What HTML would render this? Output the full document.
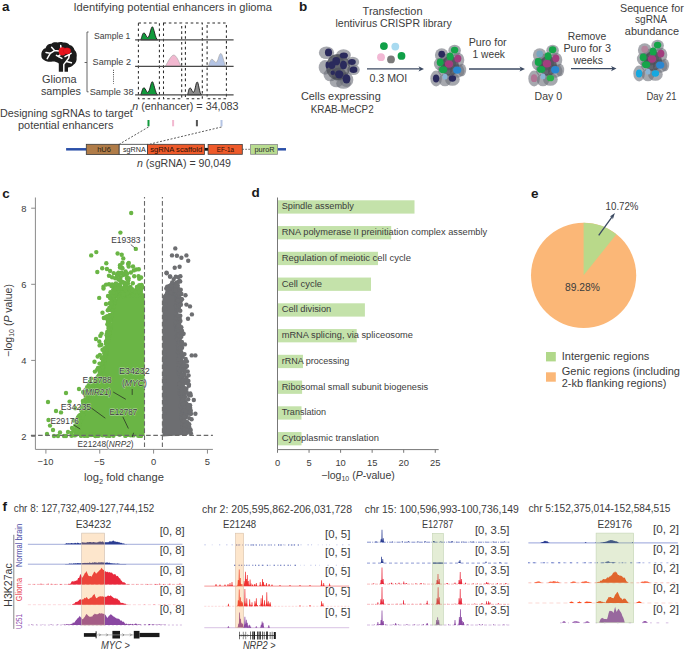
<!DOCTYPE html>
<html><head><meta charset="utf-8"><style>
html,body{margin:0;padding:0;background:#fff;overflow:hidden;width:685px;height:650px;}
svg{display:block;font-family:"Liberation Sans", sans-serif;}
</style></head><body>
<svg width="685" height="650" viewBox="0 0 685 650">
<text x="2.00" y="11.00" font-size="13.5" fill="#1a1a1a" font-weight="bold">a</text>
<text x="73.50" y="10.90" font-size="10.6" fill="#3c3c3c" textLength="198.50" lengthAdjust="spacingAndGlyphs">Identifying potential enhancers in glioma</text>
<g>
<path d="M41.4,55.8 C41,51.5 43,49 45.5,48.3 C46.5,45 49,43.6 51.5,43.8 C53,42.2 55.5,42 57.5,42.6 C59,41.6 62.5,41.8 64,42.6 C66.5,42.4 68.5,43.6 69.5,45 C72,45.3 74,47.5 74.5,50 C76.5,51.5 77.2,54.5 76.6,57.5 C77,60.5 75.8,63.5 73.5,64.8 C72,66.6 70,67.6 68,67.6 L68,71.8 L58.8,71.8 L58.8,63.6 C56.5,61.8 54.5,61.5 52.5,61.6 C49,62.2 45.5,61.5 44,60 C42.2,59.2 41.4,57.8 41.4,55.8 Z" fill="#1c1c1c"/>
<g stroke="#fff" stroke-width="1.5" fill="none" stroke-linecap="round">
<path d="M47.2,58.6 L50.3,53.3 L46,52.4 M50.3,53.3 L54.6,50.6 L51.6,47.2 M54.6,50.6 L58.8,51"/>
<path d="M56.4,55.4 L61.9,58.4 M58.5,56.6 L60.4,54.6"/>
<path d="M65,56.6 L71.1,53.3 M69.5,54.2 L68.7,58.2 L63.8,64.4 L63.8,72 M66.3,61.6 L71.4,62.8"/>
<path d="M60.7,45.5 L61,48"/>
</g>
<ellipse cx="62.4" cy="51.4" rx="3.7" ry="4.1" fill="#e8141c"/>
<ellipse cx="67" cy="50.9" rx="3.8" ry="3.1" fill="#e8141c" stroke="#b00010" stroke-width="0.3"/>
</g>
<text x="42.00" y="82.60" font-size="10.5" fill="#3c3c3c" textLength="34.60" lengthAdjust="spacingAndGlyphs">Glioma</text>
<text x="40.90" y="94.70" font-size="10.5" fill="#3c3c3c" textLength="40.10" lengthAdjust="spacingAndGlyphs">samples</text>
<path d="M88.6,32 L87,32 L87,91.8 L88.6,91.8 M87,62.5 L84.6,62.5" stroke="#555" stroke-width="0.9" fill="none"/>
<text x="94.00" y="39.00" font-size="9.4" fill="#3c3c3c" textLength="36.40" lengthAdjust="spacingAndGlyphs">Sample 1</text>
<text x="92.60" y="65.30" font-size="9.4" fill="#3c3c3c" textLength="38.40" lengthAdjust="spacingAndGlyphs">Sample 2</text>
<text x="89.70" y="94.70" font-size="9.4" fill="#3c3c3c" textLength="43.90" lengthAdjust="spacingAndGlyphs">Sample 38</text>
<line x1="113.5" y1="69.8" x2="113.5" y2="83.6" stroke="#333" stroke-width="0.9" stroke-dasharray="1,1.2"/>
<rect x="138.4" y="23" width="21.00" height="75.8" fill="none" stroke="#2a2a2a" stroke-width="1.05" stroke-dasharray="2.6,2.7"/>
<rect x="163.5" y="23" width="18.20" height="75.8" fill="none" stroke="#2a2a2a" stroke-width="1.05" stroke-dasharray="2.6,2.7"/>
<rect x="185.4" y="23" width="16.90" height="75.8" fill="none" stroke="#2a2a2a" stroke-width="1.05" stroke-dasharray="2.6,2.7"/>
<rect x="207.1" y="23" width="19.30" height="75.8" fill="none" stroke="#2a2a2a" stroke-width="1.05" stroke-dasharray="2.6,2.7"/>
<path d="M140.8,39.9 C142.0,36.9 142.41100000000003,32.9 144.01100000000002,32.9 C145.51100000000002,32.9 146.229,37.6 147.729,37.6 C149.729,37.6 150.77650000000003,26.799999999999997 152.37650000000002,26.799999999999997 C153.77650000000003,26.799999999999997 155.20000000000002,38.9 157.70000000000002,39.9 Z" fill="#119a3c" stroke="#1a1a1a" stroke-width="0.9"/>
<path d="M140.8,94.8 C142.0,91.8 142.41100000000003,87.8 144.01100000000002,87.8 C145.51100000000002,87.8 146.229,92.5 147.729,92.5 C149.729,92.5 150.77650000000003,81.7 152.37650000000002,81.7 C153.77650000000003,81.7 155.20000000000002,93.8 157.70000000000002,94.8 Z" fill="#119a3c" stroke="#1a1a1a" stroke-width="0.9"/>
<path d="M187.5,94.8 C188.7,91.8 188.598,88.0 190.198,88.0 C191.698,88.0 191.822,92.3 193.322,92.3 C195.322,92.3 195.627,82.0 197.227,82.0 C198.627,82.0 199.2,93.8 201.7,94.8 Z" fill="#8c8c8c" stroke="#1a1a1a" stroke-width="0.9"/>
<path d="M165.3,66.4 C168,62 171,55.1 173.7,55.1 C176.5,55.1 179,62 181,66.4 Z" fill="#f2b8d0" stroke="#aaa" stroke-width="0.7"/>
<path d="M208.4,66.4 C209.5,63 210.5,59.2 211.9,59.2 C213.5,59.2 214.5,62.5 216,62.5 C218,62.5 219,53.5 220.7,53.5 C222.5,53.5 223.5,61 225.5,66.4 Z" fill="#b4c4e4" stroke="#aaa" stroke-width="0.7"/>
<line x1="135.1" y1="39.9" x2="233.6" y2="39.9" stroke="#4a4a4a" stroke-width="1.3"/>
<line x1="135.1" y1="66.4" x2="233.6" y2="66.4" stroke="#4a4a4a" stroke-width="1.3"/>
<line x1="135.1" y1="94.8" x2="233.6" y2="94.8" stroke="#4a4a4a" stroke-width="1.3"/>
<text fill="#3c3c3c" x="132.3" y="110.2" font-size="10.5" textLength="106.3" lengthAdjust="spacingAndGlyphs"><tspan font-style="italic">n</tspan> (enhancer) = 34,083</text>
<text x="0.00" y="117.10" font-size="10.6" fill="#3c3c3c" textLength="132.80" lengthAdjust="spacingAndGlyphs">Designing sgRNAs to target</text>
<text x="18.00" y="128.70" font-size="10.6" fill="#3c3c3c" textLength="95.40" lengthAdjust="spacingAndGlyphs">potential enhancers</text>
<rect x="147.5" y="120" width="2" height="6.3" fill="#119a3c"/>
<rect x="172.1" y="120" width="2" height="6.3" fill="#f2b8d0"/>
<rect x="195.9" y="120" width="2" height="6.3" fill="#555"/>
<rect x="220.5" y="120" width="2" height="6.3" fill="#b4c4e4"/>
<path d="M148.5,127 L119.6,144 M221.5,127 L150.2,144" stroke="#333" stroke-width="0.8" stroke-dasharray="2,1.6" fill="none"/>
<line x1="66.1" y1="149.3" x2="86.3" y2="149.3" stroke="#2a4fa8" stroke-width="2.5"/>
<line x1="277.5" y1="149.3" x2="286" y2="149.3" stroke="#2a4fa8" stroke-width="2.5"/>
<line x1="204.4" y1="149.3" x2="208.1" y2="149.3" stroke="#111" stroke-width="2.8"/>
<line x1="242.3" y1="149.3" x2="250.6" y2="149.3" stroke="#444" stroke-width="0.8" stroke-dasharray="1.6,1.4"/>
<rect x="86.3" y="144.3" width="32.9" height="10.2" fill="#b07c48" stroke="#3a3a3a" stroke-width="0.8"/>
<rect x="119.2" y="144.3" width="28.4" height="10.2" fill="#fff" stroke="#3a3a3a" stroke-width="0.8"/>
<rect x="147.6" y="144.3" width="56.8" height="10.2" fill="#ee5a2a" stroke="#3a3a3a" stroke-width="0.8"/>
<rect x="208.1" y="144.5" width="34.2" height="9.8" fill="#ee5a2a" stroke="#3a3a3a" stroke-width="0.8"/>
<rect x="250.6" y="144.5" width="26.9" height="9.8" fill="#b8dc90" stroke="#888" stroke-width="0.8"/>
<text x="97.20" y="152.30" font-size="7.6" fill="#2a1c10" textLength="13.80" lengthAdjust="spacingAndGlyphs">hU6</text>
<text x="123.00" y="152.10" font-size="7.6" fill="#2a2a2a" textLength="22.80" lengthAdjust="spacingAndGlyphs">sgRNA</text>
<text x="150.20" y="152.30" font-size="7.6" fill="#2a1008" textLength="52.10" lengthAdjust="spacingAndGlyphs">sgRNA scaffold</text>
<text x="216.80" y="152.30" font-size="7.6" fill="#2a1008" textLength="17.10" lengthAdjust="spacingAndGlyphs">EF-1a</text>
<text x="254.50" y="152.30" font-size="7.6" fill="#2a2a2a" textLength="20.10" lengthAdjust="spacingAndGlyphs">puroR</text>
<text x="137" y="167.3" font-size="10.5" fill="#3c3c3c" textLength="94" lengthAdjust="spacingAndGlyphs"><tspan font-style="italic">n</tspan> (sgRNA) = 90,049</text>
<text x="298.90" y="11.40" font-size="13.5" fill="#1a1a1a" font-weight="bold">b</text>
<text x="362.60" y="15.00" font-size="10.3" fill="#3c3c3c" textLength="59.90" lengthAdjust="spacingAndGlyphs">Transfection</text>
<text x="335.50" y="26.90" font-size="10.3" fill="#3c3c3c" textLength="116.20" lengthAdjust="spacingAndGlyphs">lentivirus CRISPR library</text>
<text x="369.60" y="82.20" font-size="10.3" fill="#3c3c3c" textLength="37.60" lengthAdjust="spacingAndGlyphs">0.3 MOI</text>
<text x="300.90" y="100.10" font-size="10.3" fill="#3c3c3c" textLength="79.80" lengthAdjust="spacingAndGlyphs">Cells expressing</text>
<text x="310.70" y="112.90" font-size="10.3" fill="#3c3c3c" textLength="63.00" lengthAdjust="spacingAndGlyphs">KRAB-MeCP2</text>
<text x="468.70" y="45.80" font-size="10.3" fill="#3c3c3c" textLength="38.00" lengthAdjust="spacingAndGlyphs">Puro for</text>
<text x="472.60" y="58.00" font-size="10.3" fill="#3c3c3c" textLength="32.40" lengthAdjust="spacingAndGlyphs">1 week</text>
<text x="567.70" y="39.70" font-size="10.3" fill="#3c3c3c" textLength="38.50" lengthAdjust="spacingAndGlyphs">Remove</text>
<text x="563.40" y="51.80" font-size="10.3" fill="#3c3c3c" textLength="47.60" lengthAdjust="spacingAndGlyphs">Puro for 3</text>
<text x="573.50" y="63.80" font-size="10.3" fill="#3c3c3c" textLength="29.50" lengthAdjust="spacingAndGlyphs">weeks</text>
<text x="534.50" y="100.00" font-size="10.3" fill="#3c3c3c" textLength="27.60" lengthAdjust="spacingAndGlyphs">Day 0</text>
<text x="620.00" y="11.60" font-size="10.3" fill="#3c3c3c" textLength="63.80" lengthAdjust="spacingAndGlyphs">Sequence for</text>
<text x="635.00" y="22.90" font-size="10.3" fill="#3c3c3c" textLength="31.90" lengthAdjust="spacingAndGlyphs">sgRNA</text>
<text x="624.80" y="34.90" font-size="10.3" fill="#3c3c3c" textLength="54.20" lengthAdjust="spacingAndGlyphs">abundance</text>
<text x="646.40" y="100.00" font-size="10.3" fill="#3c3c3c" textLength="30.10" lengthAdjust="spacingAndGlyphs">Day 21</text>
<line x1="367" y1="68.9" x2="421" y2="68.9" stroke="#3c4a62" stroke-width="1.3"/>
<path d="M424,68.9 L418.5,66.30000000000001 L420,68.9 L418.5,71.5 Z" fill="#3c4a62"/>
<line x1="469" y1="69" x2="522" y2="69" stroke="#3c4a62" stroke-width="1.3"/>
<path d="M525,69 L519.5,66.4 L521,69 L519.5,71.6 Z" fill="#3c4a62"/>
<line x1="571" y1="68.6" x2="613.5" y2="68.6" stroke="#3c4a62" stroke-width="1.3"/>
<path d="M616.5,68.6 L611.0,66.0 L612.5,68.6 L611.0,71.19999999999999 Z" fill="#3c4a62"/>
<circle cx="383.9" cy="46.1" r="3.9" fill="#10a048"/>
<circle cx="395.3" cy="46.6" r="3.9" fill="#a8daf0"/>
<circle cx="381" cy="57.2" r="3.9" fill="#f2b8d4"/>
<circle cx="391" cy="59.4" r="3.9" fill="#7a7a7a"/>
<circle cx="401.5" cy="55.9" r="3.9" fill="#10a048"/>
<defs><filter id="bl" x="-20%" y="-20%" width="140%" height="140%"><feGaussianBlur stdDeviation="0.7"/></filter><filter id="bl2"><feGaussianBlur stdDeviation="0.35"/></filter></defs>
<g><g filter="url(#bl)"><ellipse cx="326.5" cy="52.8" rx="7.67" ry="6.30" fill="#6a6e78" fill-opacity="0.6"/><ellipse cx="343.5" cy="55.1" rx="7.35" ry="5.78" fill="#6a6e78" fill-opacity="0.6"/><ellipse cx="352.7" cy="62" rx="6.51" ry="5.25" fill="#6a6e78" fill-opacity="0.6"/><ellipse cx="353.5" cy="69.7" rx="6.30" ry="5.25" fill="#6a6e78" fill-opacity="0.6"/><ellipse cx="335.8" cy="62.8" rx="8.40" ry="8.40" fill="#6a6e78" fill-opacity="0.6"/><ellipse cx="325" cy="67.4" rx="6.30" ry="7.35" fill="#6a6e78" fill-opacity="0.6"/><ellipse cx="330.4" cy="75" rx="6.83" ry="6.30" fill="#6a6e78" fill-opacity="0.6"/><ellipse cx="338.8" cy="74.3" rx="7.35" ry="6.83" fill="#6a6e78" fill-opacity="0.6"/><ellipse cx="346.5" cy="79.7" rx="6.83" ry="7.35" fill="#6a6e78" fill-opacity="0.6"/><ellipse cx="336.5" cy="82" rx="6.83" ry="5.25" fill="#6a6e78" fill-opacity="0.6"/><ellipse cx="343.5" cy="83.5" rx="7.35" ry="5.25" fill="#6a6e78" fill-opacity="0.6"/><ellipse cx="338" cy="67" rx="12" ry="13" fill="#2e323a" fill-opacity="0.55"/></g><g filter="url(#bl2)"><ellipse cx="328.5" cy="52.4" rx="3.58" ry="3.92" fill="#2c2a5c"/><ellipse cx="343.8" cy="55.5" rx="4.14" ry="3.02" fill="#2c2a5c"/><ellipse cx="351.9" cy="62" rx="3.92" ry="3.02" fill="#2c2a5c"/><ellipse cx="353.5" cy="69.7" rx="3.92" ry="3.25" fill="#2c2a5c"/><ellipse cx="336.2" cy="61.2" rx="3.92" ry="4.14" fill="#2c2a5c"/><ellipse cx="343.5" cy="65.1" rx="3.47" ry="4.26" fill="#2c2a5c"/><ellipse cx="331.9" cy="65.1" rx="3.47" ry="3.92" fill="#2c2a5c"/><ellipse cx="327.3" cy="65.1" rx="1.79" ry="3.47" fill="#2c2a5c"/><ellipse cx="339.2" cy="74.3" rx="4.14" ry="4.14" fill="#2c2a5c"/><ellipse cx="346.5" cy="78.9" rx="3.92" ry="4.70" fill="#2c2a5c"/><ellipse cx="332.7" cy="72.8" rx="2.24" ry="2.24" fill="#2c2a5c"/></g></g>
<g><g filter="url(#bl)"><ellipse cx="441.7" cy="55" rx="6.83" ry="6.83" fill="#6a6e78" fill-opacity="0.6"/><ellipse cx="454.6" cy="50.5" rx="6.30" ry="5.78" fill="#6a6e78" fill-opacity="0.6"/><ellipse cx="458" cy="60" rx="6.30" ry="7.35" fill="#6a6e78" fill-opacity="0.6"/><ellipse cx="448" cy="62" rx="8.40" ry="8.40" fill="#6a6e78" fill-opacity="0.6"/><ellipse cx="440.2" cy="64" rx="6.30" ry="6.30" fill="#6a6e78" fill-opacity="0.6"/><ellipse cx="445" cy="70" rx="7.35" ry="6.30" fill="#6a6e78" fill-opacity="0.6"/><ellipse cx="457.2" cy="71" rx="7.35" ry="6.83" fill="#6a6e78" fill-opacity="0.6"/><ellipse cx="436.1" cy="78.5" rx="5.78" ry="7.88" fill="#6a6e78" fill-opacity="0.6"/><ellipse cx="452.4" cy="79.5" rx="7.35" ry="6.30" fill="#6a6e78" fill-opacity="0.6"/><ellipse cx="445" cy="80" rx="6.30" ry="6.30" fill="#6a6e78" fill-opacity="0.6"/><ellipse cx="462" cy="70" rx="4.20" ry="6.30" fill="#6a6e78" fill-opacity="0.6"/><ellipse cx="450" cy="66" rx="9" ry="10" fill="#2e323a" fill-opacity="0.55"/></g><g filter="url(#bl2)"><ellipse cx="441.7" cy="54.2" rx="3.36" ry="3.47" fill="#2c2a5c"/><ellipse cx="454.6" cy="50.1" rx="3.70" ry="3.47" fill="#16a44a"/><ellipse cx="450.1" cy="56.4" rx="3.47" ry="3.92" fill="#16a44a"/><ellipse cx="457.9" cy="58.6" rx="3.47" ry="3.92" fill="#a23e7e"/><ellipse cx="440.2" cy="62.3" rx="3.47" ry="3.92" fill="#16a44a"/><ellipse cx="449" cy="64.1" rx="4.14" ry="3.70" fill="#a23e7e"/><ellipse cx="443.1" cy="69.7" rx="4.14" ry="3.47" fill="#16a44a"/><ellipse cx="457.2" cy="70.1" rx="4.14" ry="3.70" fill="#2a86d0"/><ellipse cx="436.1" cy="78.5" rx="3.14" ry="3.92" fill="#2c2a5c"/><ellipse cx="452.4" cy="78.5" rx="3.70" ry="3.14" fill="#2c2a5c"/><ellipse cx="445" cy="76.7" rx="2.46" ry="2.91" fill="#8ab4d4"/></g></g>
<g><g filter="url(#bl)"><ellipse cx="539.7" cy="55" rx="6.83" ry="6.83" fill="#6a6e78" fill-opacity="0.6"/><ellipse cx="552.6" cy="50.5" rx="6.30" ry="5.78" fill="#6a6e78" fill-opacity="0.6"/><ellipse cx="556" cy="60" rx="6.30" ry="7.35" fill="#6a6e78" fill-opacity="0.6"/><ellipse cx="546" cy="62" rx="8.40" ry="8.40" fill="#6a6e78" fill-opacity="0.6"/><ellipse cx="538.2" cy="64" rx="6.30" ry="6.30" fill="#6a6e78" fill-opacity="0.6"/><ellipse cx="543" cy="70" rx="7.35" ry="6.30" fill="#6a6e78" fill-opacity="0.6"/><ellipse cx="555.2" cy="71" rx="7.35" ry="6.83" fill="#6a6e78" fill-opacity="0.6"/><ellipse cx="534.1" cy="78.5" rx="5.78" ry="7.88" fill="#6a6e78" fill-opacity="0.6"/><ellipse cx="550.4" cy="79.5" rx="7.35" ry="6.30" fill="#6a6e78" fill-opacity="0.6"/><ellipse cx="543" cy="80" rx="6.30" ry="6.30" fill="#6a6e78" fill-opacity="0.6"/><ellipse cx="560" cy="70" rx="4.20" ry="6.30" fill="#6a6e78" fill-opacity="0.6"/><ellipse cx="548" cy="66" rx="9" ry="10" fill="#2e323a" fill-opacity="0.55"/></g><g filter="url(#bl2)"><ellipse cx="539.7" cy="53.9" rx="3.36" ry="3.47" fill="#7aa6c0"/><ellipse cx="552.6" cy="49.8" rx="3.70" ry="3.47" fill="#16a44a"/><ellipse cx="548.1" cy="56.1" rx="3.47" ry="3.92" fill="#16a44a"/><ellipse cx="555.9" cy="58.3" rx="3.47" ry="3.92" fill="#a23e7e"/><ellipse cx="538.2" cy="62.0" rx="3.47" ry="3.92" fill="#16a44a"/><ellipse cx="547" cy="63.8" rx="4.14" ry="3.70" fill="#a23e7e"/><ellipse cx="541.1" cy="69.4" rx="4.14" ry="3.47" fill="#16a44a"/><ellipse cx="555.2" cy="69.8" rx="4.14" ry="3.70" fill="#2a86d0"/><ellipse cx="534.1" cy="78.2" rx="3.14" ry="3.92" fill="#b07494"/><ellipse cx="550.4" cy="78.2" rx="3.70" ry="3.14" fill="#2cb04a"/><ellipse cx="543" cy="76.4" rx="2.46" ry="2.91" fill="#8ab4d4"/></g></g>
<g><g filter="url(#bl)"><ellipse cx="644.7" cy="50" rx="6.83" ry="6.83" fill="#6a6e78" fill-opacity="0.6"/><ellipse cx="657.6" cy="45.5" rx="6.30" ry="5.78" fill="#6a6e78" fill-opacity="0.6"/><ellipse cx="661" cy="55" rx="6.30" ry="7.35" fill="#6a6e78" fill-opacity="0.6"/><ellipse cx="651" cy="57" rx="8.40" ry="8.40" fill="#6a6e78" fill-opacity="0.6"/><ellipse cx="643.2" cy="59" rx="6.30" ry="6.30" fill="#6a6e78" fill-opacity="0.6"/><ellipse cx="648" cy="65" rx="7.35" ry="6.30" fill="#6a6e78" fill-opacity="0.6"/><ellipse cx="660.2" cy="66" rx="7.35" ry="6.83" fill="#6a6e78" fill-opacity="0.6"/><ellipse cx="639.1" cy="73.5" rx="5.78" ry="7.88" fill="#6a6e78" fill-opacity="0.6"/><ellipse cx="655.4" cy="74.5" rx="7.35" ry="6.30" fill="#6a6e78" fill-opacity="0.6"/><ellipse cx="648" cy="75" rx="6.30" ry="6.30" fill="#6a6e78" fill-opacity="0.6"/><ellipse cx="665" cy="65" rx="4.20" ry="6.30" fill="#6a6e78" fill-opacity="0.6"/><ellipse cx="653" cy="61" rx="9" ry="10" fill="#2e323a" fill-opacity="0.55"/></g><g filter="url(#bl2)"><ellipse cx="644.7" cy="49.2" rx="3.36" ry="3.47" fill="#b4849c"/><ellipse cx="657.6" cy="45.1" rx="3.70" ry="3.47" fill="#16a44a"/><ellipse cx="653.1" cy="51.4" rx="3.47" ry="3.92" fill="#16a44a"/><ellipse cx="660.9" cy="53.6" rx="3.47" ry="3.92" fill="#a23e7e"/><ellipse cx="643.2" cy="57.3" rx="3.47" ry="3.92" fill="#16a44a"/><ellipse cx="652" cy="59.1" rx="4.14" ry="3.70" fill="#a23e7e"/><ellipse cx="646.1" cy="64.7" rx="4.14" ry="3.47" fill="#16a44a"/><ellipse cx="660.2" cy="65.1" rx="4.14" ry="3.70" fill="#2a86d0"/><ellipse cx="639.1" cy="73.5" rx="3.14" ry="3.92" fill="#12a8e0"/><ellipse cx="655.4" cy="73.5" rx="3.70" ry="3.14" fill="#12a8e0"/><ellipse cx="648" cy="71.7" rx="2.46" ry="2.91" fill="#8ab4d4"/></g></g>
<text x="2.20" y="197.50" font-size="13.5" fill="#1a1a1a" font-weight="bold">c</text>
<line x1="35.4" y1="197.5" x2="35.4" y2="449.4" stroke="#8a8a8a" stroke-width="1"/>
<line x1="35.4" y1="449.4" x2="212.9" y2="449.4" stroke="#8a8a8a" stroke-width="1"/>
<line x1="31.2" y1="208.20" x2="35.4" y2="208.20" stroke="#8a8a8a" stroke-width="1"/>
<text x="23.90" y="211.60" font-size="9.4" fill="#3c3c3c" text-anchor="middle">8</text>
<line x1="31.2" y1="284.30" x2="35.4" y2="284.30" stroke="#8a8a8a" stroke-width="1"/>
<text x="23.90" y="287.70" font-size="9.4" fill="#3c3c3c" text-anchor="middle">6</text>
<line x1="31.2" y1="360.40" x2="35.4" y2="360.40" stroke="#8a8a8a" stroke-width="1"/>
<text x="23.90" y="363.80" font-size="9.4" fill="#3c3c3c" text-anchor="middle">4</text>
<line x1="31.2" y1="436.50" x2="35.4" y2="436.50" stroke="#8a8a8a" stroke-width="1"/>
<text x="23.90" y="439.90" font-size="9.4" fill="#3c3c3c" text-anchor="middle">2</text>
<line x1="45.90" y1="449.4" x2="45.90" y2="453.6" stroke="#8a8a8a" stroke-width="1"/>
<text x="45.50" y="465.30" font-size="9.4" fill="#3c3c3c" text-anchor="middle">−10</text>
<line x1="99.75" y1="449.4" x2="99.75" y2="453.6" stroke="#8a8a8a" stroke-width="1"/>
<text x="99.35" y="465.30" font-size="9.4" fill="#3c3c3c" text-anchor="middle">−5</text>
<line x1="153.60" y1="449.4" x2="153.60" y2="453.6" stroke="#8a8a8a" stroke-width="1"/>
<text x="153.60" y="465.30" font-size="9.4" fill="#3c3c3c" text-anchor="middle">0</text>
<line x1="207.45" y1="449.4" x2="207.45" y2="453.6" stroke="#8a8a8a" stroke-width="1"/>
<text x="207.45" y="465.30" font-size="9.4" fill="#3c3c3c" text-anchor="middle">5</text>
<path d="M118.0,292.0 L116.0,300.0 L112.5,310.0 L111.0,330.0 L107.0,350.0 L104.5,365.0 L102.0,375.0 L96.0,386.0 L90.0,394.0 L86.5,405.0 L83.5,414.0 L80.5,423.0 L77.5,432.0 L76.5,436.0 L144.6,436 L144.6,294 Z" fill="#6ab545"/>
<g fill="#6ab545"><circle cx="109.8" cy="324.7" r="2.2"/><circle cx="106.8" cy="344.0" r="2.2"/><circle cx="95.3" cy="381.4" r="2.2"/><circle cx="117.4" cy="291.9" r="2.2"/><circle cx="108.5" cy="327.9" r="2.2"/><circle cx="74.8" cy="435.4" r="2.2"/><circle cx="82.3" cy="412.1" r="2.2"/><circle cx="94.5" cy="383.3" r="2.2"/><circle cx="97.3" cy="382.7" r="2.2"/><circle cx="103.2" cy="366.4" r="2.2"/><circle cx="91.2" cy="388.0" r="2.2"/><circle cx="86.4" cy="400.7" r="2.2"/><circle cx="106.8" cy="334.0" r="2.2"/><circle cx="80.9" cy="416.4" r="2.2"/><circle cx="89.3" cy="394.9" r="2.2"/><circle cx="89.6" cy="394.3" r="2.2"/><circle cx="106.8" cy="347.7" r="2.2"/><circle cx="106.0" cy="354.9" r="2.2"/><circle cx="78.9" cy="418.3" r="2.2"/><circle cx="109.8" cy="309.9" r="2.2"/><circle cx="75.9" cy="431.0" r="2.2"/><circle cx="96.0" cy="381.5" r="2.2"/><circle cx="102.5" cy="364.1" r="2.2"/><circle cx="107.3" cy="341.2" r="2.2"/><circle cx="101.5" cy="375.3" r="2.2"/><circle cx="93.1" cy="389.6" r="2.2"/><circle cx="83.1" cy="415.0" r="2.2"/><circle cx="91.6" cy="388.0" r="2.2"/><circle cx="82.8" cy="415.7" r="2.2"/><circle cx="79.3" cy="422.1" r="2.2"/><circle cx="87.2" cy="394.2" r="2.2"/><circle cx="82.9" cy="411.4" r="2.2"/><circle cx="107.4" cy="331.6" r="2.2"/><circle cx="83.2" cy="414.7" r="2.2"/><circle cx="114.3" cy="302.9" r="2.2"/><circle cx="104.0" cy="349.9" r="2.2"/><circle cx="109.6" cy="332.9" r="2.2"/><circle cx="79.0" cy="417.4" r="2.2"/><circle cx="96.1" cy="379.7" r="2.2"/><circle cx="87.4" cy="394.9" r="2.2"/><circle cx="81.9" cy="418.6" r="2.2"/><circle cx="104.7" cy="363.8" r="2.2"/><circle cx="106.7" cy="335.2" r="2.2"/><circle cx="97.2" cy="377.6" r="2.2"/><circle cx="109.8" cy="318.8" r="2.2"/><circle cx="96.8" cy="379.1" r="2.2"/><circle cx="116.5" cy="296.2" r="2.2"/><circle cx="109.7" cy="335.8" r="2.2"/><circle cx="79.0" cy="420.9" r="2.2"/><circle cx="104.1" cy="357.2" r="2.2"/><circle cx="95.7" cy="384.0" r="2.2"/><circle cx="101.5" cy="371.7" r="2.2"/><circle cx="77.3" cy="427.3" r="2.2"/><circle cx="105.5" cy="353.0" r="2.2"/><circle cx="109.0" cy="324.7" r="2.2"/><circle cx="75.6" cy="432.8" r="2.2"/><circle cx="99.8" cy="370.1" r="2.2"/><circle cx="105.4" cy="350.6" r="2.2"/><circle cx="116.4" cy="292.9" r="2.2"/><circle cx="94.7" cy="382.3" r="2.2"/><circle cx="96.5" cy="381.6" r="2.2"/><circle cx="91.4" cy="389.2" r="2.2"/><circle cx="89.7" cy="393.2" r="2.2"/><circle cx="114.4" cy="293.2" r="2.2"/><circle cx="93.8" cy="388.7" r="2.2"/><circle cx="109.3" cy="326.7" r="2.2"/><circle cx="98.8" cy="376.5" r="2.2"/><circle cx="106.0" cy="343.1" r="2.2"/><circle cx="106.8" cy="343.9" r="2.2"/><circle cx="108.0" cy="333.9" r="2.2"/><circle cx="83.8" cy="402.8" r="2.2"/><circle cx="101.5" cy="373.1" r="2.2"/><circle cx="107.2" cy="335.3" r="2.2"/><circle cx="83.1" cy="407.4" r="2.2"/><circle cx="110.0" cy="317.4" r="2.2"/><circle cx="88.4" cy="391.9" r="2.2"/><circle cx="107.3" cy="337.0" r="2.2"/><circle cx="82.3" cy="411.7" r="2.2"/><circle cx="80.3" cy="414.9" r="2.2"/><circle cx="107.9" cy="339.2" r="2.2"/><circle cx="79.8" cy="419.2" r="2.2"/><circle cx="108.5" cy="322.9" r="2.2"/><circle cx="101.1" cy="367.3" r="2.2"/><circle cx="85.0" cy="407.8" r="2.2"/><circle cx="109.5" cy="316.8" r="2.2"/><circle cx="84.3" cy="407.9" r="2.2"/><circle cx="83.3" cy="407.7" r="2.2"/><circle cx="110.4" cy="308.9" r="2.2"/><circle cx="83.6" cy="405.9" r="2.2"/><circle cx="106.8" cy="340.6" r="2.2"/><circle cx="104.7" cy="351.3" r="2.2"/><circle cx="77.1" cy="424.4" r="2.2"/><circle cx="117.8" cy="290.7" r="2.2"/><circle cx="82.0" cy="418.5" r="2.2"/><circle cx="106.3" cy="353.4" r="2.2"/><circle cx="77.0" cy="425.4" r="2.2"/><circle cx="87.9" cy="398.8" r="2.2"/><circle cx="93.7" cy="386.8" r="2.2"/><circle cx="108.3" cy="332.2" r="2.2"/><circle cx="108.2" cy="323.2" r="2.2"/><circle cx="99.0" cy="375.9" r="2.2"/><circle cx="82.1" cy="408.3" r="2.2"/><circle cx="79.8" cy="421.9" r="2.2"/><circle cx="79.5" cy="424.9" r="2.2"/><circle cx="79.6" cy="421.4" r="2.2"/><circle cx="117.1" cy="291.9" r="2.2"/><circle cx="109.7" cy="315.1" r="2.2"/><circle cx="93.8" cy="386.8" r="2.2"/><circle cx="106.7" cy="350.4" r="2.2"/><circle cx="97.3" cy="379.4" r="2.2"/><circle cx="110.8" cy="326.9" r="2.2"/><circle cx="104.6" cy="359.7" r="2.2"/><circle cx="105.9" cy="341.4" r="2.2"/><circle cx="103.1" cy="368.1" r="2.2"/><circle cx="111.4" cy="315.0" r="2.2"/><circle cx="79.3" cy="424.6" r="2.2"/><circle cx="81.3" cy="410.2" r="2.2"/><circle cx="97.8" cy="381.8" r="2.2"/><circle cx="114.1" cy="297.3" r="2.2"/><circle cx="109.4" cy="329.2" r="2.2"/><circle cx="104.9" cy="351.8" r="2.2"/><circle cx="83.5" cy="403.4" r="2.2"/><circle cx="113.4" cy="298.0" r="2.2"/><circle cx="109.9" cy="308.2" r="2.2"/><circle cx="76.9" cy="432.3" r="2.2"/><circle cx="113.4" cy="302.6" r="2.2"/><circle cx="107.4" cy="336.1" r="2.2"/><circle cx="107.5" cy="341.3" r="2.2"/><circle cx="99.4" cy="375.6" r="2.2"/><circle cx="109.6" cy="317.9" r="2.2"/><circle cx="111.6" cy="308.1" r="2.2"/><circle cx="87.7" cy="394.5" r="2.2"/><circle cx="112.5" cy="301.7" r="2.2"/><circle cx="106.7" cy="344.5" r="2.2"/><circle cx="84.6" cy="404.3" r="2.2"/><circle cx="84.5" cy="407.0" r="2.2"/><circle cx="104.3" cy="353.0" r="2.2"/><circle cx="103.9" cy="362.4" r="2.2"/><circle cx="105.7" cy="351.4" r="2.2"/><circle cx="103.1" cy="357.3" r="2.2"/><circle cx="102.6" cy="368.2" r="2.2"/><circle cx="113.8" cy="300.5" r="2.2"/><circle cx="106.2" cy="352.2" r="2.2"/><circle cx="77.1" cy="426.7" r="2.2"/><circle cx="80.4" cy="421.1" r="2.2"/><circle cx="109.3" cy="328.3" r="2.2"/><circle cx="112.6" cy="308.0" r="2.2"/><circle cx="95.1" cy="386.7" r="2.2"/><circle cx="85.1" cy="405.7" r="2.2"/><circle cx="87.5" cy="397.1" r="2.2"/><circle cx="112.8" cy="305.1" r="2.2"/><circle cx="115.0" cy="290.7" r="2.2"/><circle cx="83.8" cy="403.0" r="2.2"/><circle cx="111.7" cy="303.4" r="2.2"/><circle cx="79.1" cy="418.5" r="2.2"/><circle cx="117.1" cy="293.4" r="2.2"/><circle cx="112.8" cy="307.7" r="2.2"/><circle cx="93.7" cy="388.3" r="2.2"/><circle cx="77.0" cy="429.1" r="2.2"/><circle cx="82.6" cy="406.6" r="2.2"/><circle cx="85.7" cy="402.0" r="2.2"/><circle cx="86.7" cy="394.4" r="2.2"/><circle cx="88.1" cy="399.3" r="2.2"/><circle cx="113.9" cy="298.9" r="2.2"/><circle cx="102.1" cy="372.3" r="2.2"/><circle cx="108.5" cy="325.4" r="2.2"/><circle cx="109.9" cy="326.5" r="2.2"/><circle cx="86.0" cy="400.0" r="2.2"/><circle cx="106.2" cy="343.7" r="2.2"/><circle cx="106.7" cy="341.1" r="2.2"/><circle cx="113.5" cy="302.2" r="2.2"/><circle cx="75.4" cy="432.1" r="2.2"/><circle cx="85.4" cy="399.1" r="2.2"/><circle cx="91.5" cy="390.9" r="2.2"/><circle cx="92.5" cy="388.4" r="2.2"/><circle cx="104.0" cy="360.6" r="2.2"/><circle cx="78.2" cy="421.0" r="2.2"/><circle cx="113.7" cy="304.0" r="2.2"/><circle cx="78.5" cy="423.8" r="2.2"/><circle cx="105.2" cy="354.7" r="2.2"/><circle cx="109.4" cy="317.2" r="2.2"/><circle cx="110.4" cy="319.1" r="2.2"/><circle cx="107.1" cy="336.0" r="2.2"/><circle cx="92.2" cy="390.9" r="2.2"/><circle cx="109.3" cy="333.2" r="2.2"/><circle cx="106.4" cy="350.3" r="2.2"/><circle cx="99.2" cy="375.4" r="2.2"/><circle cx="108.2" cy="321.8" r="2.2"/><circle cx="103.2" cy="360.0" r="2.2"/><circle cx="109.9" cy="315.1" r="2.2"/><circle cx="108.8" cy="337.0" r="2.2"/><circle cx="112.4" cy="311.0" r="2.2"/><circle cx="103.9" cy="360.0" r="2.2"/><circle cx="105.0" cy="358.3" r="2.2"/><circle cx="83.3" cy="410.0" r="2.2"/><circle cx="104.3" cy="360.3" r="2.2"/><circle cx="81.0" cy="415.1" r="2.2"/><circle cx="88.9" cy="397.1" r="2.2"/><circle cx="102.9" cy="358.2" r="2.2"/><circle cx="110.4" cy="324.3" r="2.2"/><circle cx="93.9" cy="388.6" r="2.2"/><circle cx="80.6" cy="414.7" r="2.2"/><circle cx="109.3" cy="317.7" r="2.2"/><circle cx="110.9" cy="317.3" r="2.2"/><circle cx="82.7" cy="415.4" r="2.2"/><circle cx="110.7" cy="327.2" r="2.2"/><circle cx="107.8" cy="335.8" r="2.2"/><circle cx="86.0" cy="396.4" r="2.2"/><circle cx="114.2" cy="303.5" r="2.2"/><circle cx="108.2" cy="332.6" r="2.2"/><circle cx="100.9" cy="374.7" r="2.2"/><circle cx="115.7" cy="291.0" r="2.2"/><circle cx="104.6" cy="353.7" r="2.2"/><circle cx="110.2" cy="320.7" r="2.2"/><circle cx="76.2" cy="429.5" r="2.2"/><circle cx="100.3" cy="369.5" r="2.2"/><circle cx="109.8" cy="330.1" r="2.2"/><circle cx="113.4" cy="306.4" r="2.2"/><circle cx="77.4" cy="422.7" r="2.2"/><circle cx="76.8" cy="427.4" r="2.2"/><circle cx="86.4" cy="402.8" r="2.2"/><circle cx="109.2" cy="333.1" r="2.2"/><circle cx="95.6" cy="385.5" r="2.2"/><circle cx="110.2" cy="328.8" r="2.2"/><circle cx="76.9" cy="430.4" r="2.2"/><circle cx="100.6" cy="368.3" r="2.2"/><circle cx="102.7" cy="362.1" r="2.2"/><circle cx="88.6" cy="394.8" r="2.2"/><circle cx="99.7" cy="372.7" r="2.2"/><circle cx="95.7" cy="384.3" r="2.2"/><circle cx="111.7" cy="316.1" r="2.2"/><circle cx="93.1" cy="385.7" r="2.2"/><circle cx="76.5" cy="426.0" r="2.2"/><circle cx="108.3" cy="338.4" r="2.2"/><circle cx="99.2" cy="377.2" r="2.2"/><circle cx="94.9" cy="384.5" r="2.2"/><circle cx="107.0" cy="335.6" r="2.2"/><circle cx="115.0" cy="300.0" r="2.2"/><circle cx="86.4" cy="400.2" r="2.2"/><circle cx="86.5" cy="398.0" r="2.2"/><circle cx="108.9" cy="328.8" r="2.2"/><circle cx="79.0" cy="417.4" r="2.2"/><circle cx="102.1" cy="363.7" r="2.2"/><circle cx="85.1" cy="402.3" r="2.2"/><circle cx="107.2" cy="338.6" r="2.2"/><circle cx="102.7" cy="369.1" r="2.2"/><circle cx="108.2" cy="341.5" r="2.2"/><circle cx="111.2" cy="306.4" r="2.2"/><circle cx="111.3" cy="304.5" r="2.2"/><circle cx="85.9" cy="403.7" r="2.2"/><circle cx="109.1" cy="317.0" r="2.2"/><circle cx="106.0" cy="350.8" r="2.2"/><circle cx="84.3" cy="409.1" r="2.2"/><circle cx="98.2" cy="376.4" r="2.2"/><circle cx="104.5" cy="348.2" r="2.2"/><circle cx="102.5" cy="367.0" r="2.2"/><circle cx="109.2" cy="319.5" r="2.2"/><circle cx="83.4" cy="404.1" r="2.2"/><circle cx="85.4" cy="407.3" r="2.2"/><circle cx="76.5" cy="428.6" r="2.2"/><circle cx="94.9" cy="371.6" r="2.2"/><circle cx="71.5" cy="432.7" r="2.2"/><circle cx="86.9" cy="390.9" r="2.2"/><circle cx="94.5" cy="361.7" r="2.2"/><circle cx="97.0" cy="378.6" r="2.2"/><circle cx="83.9" cy="402.9" r="2.2"/><circle cx="87.1" cy="387.3" r="2.2"/><circle cx="102.4" cy="358.3" r="2.2"/><circle cx="107.7" cy="319.9" r="2.2"/><circle cx="101.5" cy="364.1" r="2.2"/><circle cx="88.7" cy="385.0" r="2.2"/><circle cx="73.4" cy="430.1" r="2.2"/><circle cx="73.7" cy="420.5" r="2.2"/><circle cx="90.0" cy="381.8" r="2.2"/><circle cx="111.3" cy="299.3" r="2.2"/><circle cx="109.6" cy="303.2" r="2.2"/><circle cx="97.2" cy="369.6" r="2.2"/><circle cx="77.9" cy="417.4" r="2.2"/><circle cx="83.2" cy="392.0" r="2.2"/><circle cx="91.1" cy="378.6" r="2.2"/><circle cx="75.3" cy="425.5" r="2.2"/><circle cx="99.3" cy="341.5" r="2.2"/><circle cx="75.2" cy="408.2" r="2.2"/><circle cx="99.9" cy="354.9" r="2.2"/><circle cx="82.9" cy="401.0" r="2.2"/><circle cx="113.3" cy="298.1" r="2.2"/><circle cx="111.1" cy="303.2" r="2.2"/><circle cx="99.5" cy="363.6" r="2.2"/><circle cx="83.9" cy="392.7" r="2.2"/><circle cx="92.3" cy="385.5" r="2.2"/><circle cx="100.3" cy="335.9" r="2.2"/><circle cx="102.5" cy="349.8" r="2.2"/><circle cx="103.8" cy="318.0" r="2.2"/><circle cx="101.3" cy="344.8" r="2.2"/><circle cx="99.6" cy="345.4" r="2.2"/><circle cx="107.4" cy="324.2" r="2.2"/><circle cx="113.1" cy="292.4" r="2.2"/><circle cx="102.5" cy="312.7" r="2.2"/><circle cx="101.7" cy="358.2" r="2.2"/><circle cx="106.4" cy="316.6" r="2.2"/><circle cx="103.5" cy="350.1" r="2.2"/><circle cx="109.4" cy="307.8" r="2.2"/><circle cx="107.6" cy="316.2" r="2.2"/><circle cx="114.1" cy="295.2" r="2.2"/><circle cx="97.7" cy="356.5" r="2.2"/><circle cx="114.5" cy="290.6" r="2.2"/><circle cx="113.8" cy="295.7" r="2.2"/><circle cx="115.8" cy="291.3" r="2.2"/><circle cx="131.4" cy="290.1" r="2.2"/><circle cx="114.5" cy="293.5" r="2.2"/><circle cx="121.9" cy="289.2" r="2.2"/><circle cx="137.1" cy="292.7" r="2.2"/><circle cx="130.5" cy="287.0" r="2.2"/><circle cx="115.7" cy="288.5" r="2.2"/><circle cx="118.9" cy="295.8" r="2.2"/><circle cx="141.0" cy="287.8" r="2.2"/><circle cx="138.2" cy="288.0" r="2.2"/><circle cx="123.7" cy="290.7" r="2.2"/><circle cx="136.1" cy="291.3" r="2.2"/><circle cx="134.0" cy="290.5" r="2.2"/><circle cx="117.6" cy="293.4" r="2.2"/><circle cx="122.9" cy="290.3" r="2.2"/><circle cx="124.8" cy="295.6" r="2.2"/><circle cx="129.8" cy="288.0" r="2.2"/><circle cx="132.2" cy="289.2" r="2.2"/><circle cx="119.5" cy="292.1" r="2.2"/><circle cx="128.8" cy="288.7" r="2.2"/><circle cx="115.3" cy="294.4" r="2.2"/><circle cx="113.7" cy="295.7" r="2.2"/><circle cx="139.4" cy="287.8" r="2.2"/><circle cx="123.2" cy="292.4" r="2.2"/><circle cx="126.7" cy="293.6" r="2.2"/><circle cx="123.2" cy="291.4" r="2.2"/><circle cx="129.4" cy="293.6" r="2.2"/><circle cx="132.2" cy="292.5" r="2.2"/><circle cx="123.4" cy="296.0" r="2.2"/><circle cx="125.8" cy="287.8" r="2.2"/><circle cx="140.6" cy="291.8" r="2.2"/><circle cx="127.3" cy="294.0" r="2.2"/><circle cx="142.5" cy="295.3" r="2.2"/><circle cx="140.7" cy="288.7" r="2.2"/><circle cx="121.2" cy="290.9" r="2.2"/><circle cx="135.0" cy="293.7" r="2.2"/><circle cx="116.1" cy="289.7" r="2.2"/><circle cx="138.9" cy="290.4" r="2.2"/><circle cx="136.9" cy="289.7" r="2.2"/><circle cx="136.9" cy="287.1" r="2.2"/><circle cx="128.7" cy="291.8" r="2.2"/><circle cx="142.0" cy="287.3" r="2.2"/><circle cx="113.4" cy="290.9" r="2.2"/><circle cx="114.5" cy="291.9" r="2.2"/><circle cx="125.4" cy="289.3" r="2.2"/><circle cx="140.0" cy="294.3" r="2.2"/><circle cx="121.3" cy="288.5" r="2.2"/><circle cx="137.1" cy="292.4" r="2.2"/><circle cx="128.3" cy="288.5" r="2.2"/><circle cx="125.1" cy="290.2" r="2.2"/><circle cx="140.6" cy="292.5" r="2.2"/><circle cx="130.0" cy="291.9" r="2.2"/><circle cx="116.0" cy="293.0" r="2.2"/><circle cx="140.9" cy="289.9" r="2.2"/><circle cx="121.3" cy="288.2" r="2.2"/><circle cx="142.0" cy="287.7" r="2.2"/><circle cx="137.2" cy="287.0" r="2.2"/><circle cx="141.5" cy="287.6" r="2.2"/><circle cx="87.5" cy="435.9" r="2.2"/><circle cx="81.2" cy="434.6" r="2.2"/><circle cx="83.6" cy="434.6" r="2.2"/><circle cx="119.3" cy="434.5" r="2.2"/><circle cx="81.0" cy="435.0" r="2.2"/><circle cx="125.3" cy="435.9" r="2.2"/><circle cx="84.2" cy="435.7" r="2.2"/><circle cx="133.6" cy="434.8" r="2.2"/><circle cx="139.8" cy="435.9" r="2.2"/><circle cx="98.2" cy="435.2" r="2.2"/><circle cx="98.6" cy="435.8" r="2.2"/><circle cx="91.0" cy="434.5" r="2.2"/><circle cx="81.0" cy="435.8" r="2.2"/><circle cx="95.9" cy="435.8" r="2.2"/><circle cx="76.4" cy="434.6" r="2.2"/><circle cx="138.2" cy="435.7" r="2.2"/><circle cx="141.2" cy="434.5" r="2.2"/><circle cx="96.1" cy="435.6" r="2.2"/><circle cx="105.7" cy="434.6" r="2.2"/><circle cx="93.3" cy="434.9" r="2.2"/><circle cx="95.4" cy="436.0" r="2.2"/><circle cx="126.9" cy="434.9" r="2.2"/><circle cx="104.1" cy="435.1" r="2.2"/><circle cx="102.5" cy="435.2" r="2.2"/><circle cx="130.6" cy="435.2" r="2.2"/><circle cx="113.4" cy="435.7" r="2.2"/><circle cx="131.7" cy="434.6" r="2.2"/><circle cx="140.0" cy="435.7" r="2.2"/><circle cx="82.9" cy="434.7" r="2.2"/><circle cx="85.2" cy="435.6" r="2.2"/><circle cx="141.0" cy="435.9" r="2.2"/><circle cx="133.4" cy="435.4" r="2.2"/><circle cx="71.5" cy="435.8" r="2.2"/><circle cx="127.8" cy="434.7" r="2.2"/><circle cx="120.0" cy="434.5" r="2.2"/><circle cx="125.8" cy="435.2" r="2.2"/><circle cx="109.5" cy="435.9" r="2.2"/><circle cx="81.2" cy="435.3" r="2.2"/><circle cx="94.0" cy="435.1" r="2.2"/><circle cx="97.5" cy="435.2" r="2.2"/><circle cx="96.4" cy="435.5" r="2.2"/><circle cx="141.2" cy="435.1" r="2.2"/><circle cx="132.7" cy="434.6" r="2.2"/><circle cx="91.4" cy="434.7" r="2.2"/><circle cx="90.2" cy="434.5" r="2.2"/><circle cx="106.6" cy="435.8" r="2.2"/><circle cx="95.3" cy="434.9" r="2.2"/><circle cx="91.0" cy="435.0" r="2.2"/><circle cx="103.4" cy="434.5" r="2.2"/><circle cx="108.9" cy="435.3" r="2.2"/><circle cx="122.5" cy="262.8" r="2.2"/><circle cx="128.1" cy="264.0" r="2.2"/><circle cx="128.7" cy="266.5" r="2.2"/><circle cx="133.0" cy="266.5" r="2.2"/><circle cx="136.1" cy="269.5" r="2.2"/><circle cx="121.9" cy="267.7" r="2.2"/><circle cx="121.3" cy="272.6" r="2.2"/><circle cx="125.6" cy="271.4" r="2.2"/><circle cx="119.5" cy="273.9" r="2.2"/><circle cx="123.2" cy="275.1" r="2.2"/><circle cx="102.2" cy="268.3" r="2.2"/><circle cx="97.3" cy="272.0" r="2.2"/><circle cx="109.0" cy="275.7" r="2.2"/><circle cx="115.2" cy="278.2" r="2.2"/><circle cx="127.5" cy="279.4" r="2.2"/><circle cx="134.2" cy="276.3" r="2.2"/><circle cx="139.2" cy="278.8" r="2.2"/><circle cx="103.5" cy="286.8" r="2.2"/><circle cx="103.5" cy="288.6" r="2.2"/><circle cx="137.9" cy="286.8" r="2.2"/><circle cx="141.6" cy="284.9" r="2.2"/><circle cx="99.2" cy="297.9" r="2.2"/><circle cx="107.8" cy="310.2" r="2.2"/><circle cx="104.7" cy="317.6" r="2.2"/><circle cx="91.2" cy="255.4" r="2.2"/><circle cx="96.3" cy="252.1" r="2.2"/><circle cx="117.6" cy="253.5" r="2.2"/><circle cx="121.7" cy="254.8" r="2.2"/><circle cx="135.8" cy="248.9" r="2.2"/><circle cx="131.2" cy="213.0" r="2.2"/><circle cx="120.4" cy="232.6" r="2.2"/><circle cx="125.1" cy="289.9" r="2.2"/><circle cx="119.9" cy="285.5" r="2.2"/><circle cx="121.3" cy="282.6" r="2.2"/><circle cx="118.4" cy="288.8" r="2.2"/><circle cx="123.7" cy="282.5" r="2.2"/><circle cx="124.8" cy="285.1" r="2.2"/><circle cx="126.7" cy="284.9" r="2.2"/><circle cx="115.2" cy="286.4" r="2.2"/><circle cx="125.3" cy="285.4" r="2.2"/><circle cx="125.0" cy="287.7" r="2.2"/><circle cx="117.4" cy="284.4" r="2.2"/><circle cx="119.6" cy="285.2" r="2.2"/><circle cx="117.6" cy="287.2" r="2.2"/><circle cx="125.1" cy="286.7" r="2.2"/><circle cx="120.0" cy="267.5" r="2.2"/><circle cx="123.2" cy="273.8" r="2.2"/><circle cx="120.0" cy="265.3" r="2.2"/><circle cx="122.5" cy="268.5" r="2.2"/><circle cx="118.4" cy="272.6" r="2.2"/><circle cx="130.9" cy="272.5" r="2.2"/><circle cx="122.1" cy="292.7" r="2.2"/><circle cx="138.5" cy="276.1" r="2.2"/><circle cx="109.0" cy="284.3" r="2.2"/><circle cx="142.2" cy="286.6" r="2.2"/><circle cx="136.2" cy="292.0" r="2.2"/><circle cx="120.3" cy="265.7" r="2.2"/><circle cx="126.9" cy="277.9" r="2.2"/><circle cx="125.3" cy="283.1" r="2.2"/><circle cx="138.8" cy="269.3" r="2.2"/><circle cx="128.6" cy="278.2" r="2.2"/><circle cx="113.4" cy="286.0" r="2.2"/><circle cx="117.4" cy="274.4" r="2.2"/><circle cx="113.7" cy="273.1" r="2.2"/><circle cx="136.4" cy="290.4" r="2.2"/><circle cx="120.2" cy="273.2" r="2.2"/><circle cx="110.1" cy="270.9" r="2.2"/><circle cx="126.6" cy="274.8" r="2.2"/><circle cx="122.1" cy="281.9" r="2.2"/><circle cx="137.4" cy="287.9" r="2.2"/><circle cx="113.4" cy="289.3" r="2.2"/><circle cx="126.2" cy="286.9" r="2.2"/><circle cx="138.3" cy="291.9" r="2.2"/><circle cx="136.5" cy="295.6" r="2.2"/><circle cx="118.8" cy="285.9" r="2.2"/><circle cx="120.1" cy="279.4" r="2.2"/><circle cx="127.0" cy="273.5" r="2.2"/><circle cx="112.1" cy="277.2" r="2.2"/><circle cx="120.5" cy="277.6" r="2.2"/><circle cx="133.8" cy="270.4" r="2.2"/><circle cx="115.8" cy="283.4" r="2.2"/><circle cx="115.4" cy="288.6" r="2.2"/><circle cx="120.2" cy="280.3" r="2.2"/><circle cx="132.5" cy="290.2" r="2.2"/><circle cx="113.4" cy="293.0" r="2.2"/><circle cx="133.0" cy="295.3" r="2.2"/><circle cx="111.5" cy="286.1" r="2.2"/><circle cx="128.0" cy="283.4" r="2.2"/><circle cx="106.3" cy="263.2" r="2.2"/><circle cx="120.3" cy="287.8" r="2.2"/><circle cx="128.3" cy="295.8" r="2.2"/><circle cx="106.1" cy="284.6" r="2.2"/><circle cx="112.2" cy="284.5" r="2.2"/><circle cx="122.2" cy="288.6" r="2.2"/><circle cx="118.6" cy="288.4" r="2.2"/><circle cx="106.9" cy="269.0" r="2.2"/><circle cx="132.8" cy="283.2" r="2.2"/><circle cx="117.3" cy="274.2" r="2.2"/><circle cx="124.3" cy="288.2" r="2.2"/><circle cx="127.2" cy="293.2" r="2.2"/><circle cx="123.3" cy="258.4" r="2.2"/><circle cx="117.0" cy="276.0" r="2.2"/><circle cx="128.8" cy="263.0" r="2.2"/><circle cx="141.1" cy="277.5" r="2.2"/><circle cx="123.4" cy="294.4" r="2.2"/><circle cx="128.3" cy="280.2" r="2.2"/><circle cx="118.4" cy="279.5" r="2.2"/><circle cx="139.4" cy="285.2" r="2.2"/><circle cx="135.2" cy="291.9" r="2.2"/><circle cx="111.0" cy="295.2" r="2.2"/><circle cx="110.5" cy="292.2" r="2.2"/><circle cx="66.0" cy="393.0" r="2.2"/><circle cx="48.0" cy="402.0" r="2.2"/><circle cx="69.6" cy="401.6" r="2.2"/><circle cx="56.0" cy="411.0" r="2.2"/><circle cx="61.0" cy="412.4" r="2.2"/><circle cx="79.0" cy="389.0" r="2.2"/><circle cx="79.0" cy="416.0" r="2.2"/><circle cx="50.0" cy="425.6" r="2.2"/><circle cx="53.0" cy="430.0" r="2.2"/><circle cx="60.0" cy="432.4" r="2.2"/><circle cx="68.0" cy="432.0" r="2.2"/><circle cx="72.0" cy="428.0" r="2.2"/><circle cx="96.0" cy="339.0" r="2.2"/><circle cx="101.6" cy="333.6" r="2.2"/><circle cx="105.0" cy="318.0" r="2.2"/><circle cx="98.0" cy="368.0" r="2.2"/><circle cx="99.6" cy="370.0" r="2.2"/><circle cx="104.0" cy="374.0" r="2.2"/><circle cx="48.5" cy="420.0" r="2.2"/><circle cx="47.0" cy="434.0" r="2.2"/><circle cx="58.0" cy="436.0" r="2.2"/><circle cx="66.0" cy="436.0" r="2.2"/><circle cx="108.0" cy="296.0" r="2.2"/><circle cx="110.0" cy="298.0" r="2.2"/><circle cx="106.0" cy="304.0" r="2.2"/><circle cx="64.0" cy="436.0" r="2.2"/><circle cx="54.0" cy="436.0" r="2.2"/></g>
<path d="M162.5,296 L166,292 L179,292 L178.5,300.0 L178.0,320.0 L180.0,340.0 L181.0,370.0 L183.0,400.0 L185.0,435.0 L162.5,436.5 Z" fill="#6d6e71"/>
<g fill="#6d6e71"><circle cx="182.8" cy="427.2" r="2.2"/><circle cx="184.6" cy="413.7" r="2.2"/><circle cx="178.0" cy="352.0" r="2.2"/><circle cx="178.5" cy="319.7" r="2.2"/><circle cx="178.7" cy="350.1" r="2.2"/><circle cx="181.3" cy="353.1" r="2.2"/><circle cx="175.6" cy="325.3" r="2.2"/><circle cx="182.9" cy="427.5" r="2.2"/><circle cx="181.3" cy="344.7" r="2.2"/><circle cx="176.3" cy="329.4" r="2.2"/><circle cx="182.1" cy="418.5" r="2.2"/><circle cx="179.0" cy="320.6" r="2.2"/><circle cx="179.0" cy="321.7" r="2.2"/><circle cx="178.0" cy="337.0" r="2.2"/><circle cx="177.3" cy="319.7" r="2.2"/><circle cx="179.7" cy="370.3" r="2.2"/><circle cx="179.0" cy="362.6" r="2.2"/><circle cx="184.6" cy="411.1" r="2.2"/><circle cx="183.4" cy="398.7" r="2.2"/><circle cx="176.4" cy="298.4" r="2.2"/><circle cx="175.7" cy="317.9" r="2.2"/><circle cx="185.5" cy="430.4" r="2.2"/><circle cx="183.6" cy="422.4" r="2.2"/><circle cx="177.2" cy="305.1" r="2.2"/><circle cx="178.8" cy="296.3" r="2.2"/><circle cx="176.9" cy="327.0" r="2.2"/><circle cx="182.4" cy="427.0" r="2.2"/><circle cx="182.7" cy="423.6" r="2.2"/><circle cx="179.5" cy="385.7" r="2.2"/><circle cx="182.8" cy="420.1" r="2.2"/><circle cx="179.6" cy="338.7" r="2.2"/><circle cx="179.4" cy="375.2" r="2.2"/><circle cx="177.8" cy="306.3" r="2.2"/><circle cx="178.1" cy="291.6" r="2.2"/><circle cx="177.6" cy="338.5" r="2.2"/><circle cx="177.1" cy="336.2" r="2.2"/><circle cx="178.7" cy="334.5" r="2.2"/><circle cx="178.7" cy="347.8" r="2.2"/><circle cx="178.1" cy="330.7" r="2.2"/><circle cx="182.0" cy="402.5" r="2.2"/><circle cx="182.1" cy="400.9" r="2.2"/><circle cx="176.1" cy="305.7" r="2.2"/><circle cx="182.7" cy="412.6" r="2.2"/><circle cx="179.3" cy="344.2" r="2.2"/><circle cx="182.3" cy="412.4" r="2.2"/><circle cx="178.6" cy="341.2" r="2.2"/><circle cx="176.5" cy="289.6" r="2.2"/><circle cx="179.7" cy="358.4" r="2.2"/><circle cx="179.5" cy="354.4" r="2.2"/><circle cx="180.3" cy="393.2" r="2.2"/><circle cx="182.3" cy="432.3" r="2.2"/><circle cx="181.6" cy="415.4" r="2.2"/><circle cx="181.4" cy="404.9" r="2.2"/><circle cx="177.7" cy="299.5" r="2.2"/><circle cx="184.2" cy="411.3" r="2.2"/><circle cx="185.1" cy="416.9" r="2.2"/><circle cx="176.6" cy="295.8" r="2.2"/><circle cx="178.6" cy="303.7" r="2.2"/><circle cx="180.6" cy="354.4" r="2.2"/><circle cx="184.5" cy="405.0" r="2.2"/><circle cx="182.8" cy="387.5" r="2.2"/><circle cx="178.3" cy="368.6" r="2.2"/><circle cx="181.5" cy="419.0" r="2.2"/><circle cx="179.0" cy="300.6" r="2.2"/><circle cx="178.7" cy="329.2" r="2.2"/><circle cx="175.4" cy="292.2" r="2.2"/><circle cx="179.7" cy="393.2" r="2.2"/><circle cx="181.7" cy="363.1" r="2.2"/><circle cx="178.0" cy="319.5" r="2.2"/><circle cx="182.4" cy="397.3" r="2.2"/><circle cx="183.0" cy="400.6" r="2.2"/><circle cx="175.1" cy="290.1" r="2.2"/><circle cx="182.0" cy="366.9" r="2.2"/><circle cx="177.5" cy="319.9" r="2.2"/><circle cx="178.9" cy="306.9" r="2.2"/><circle cx="179.6" cy="353.4" r="2.2"/><circle cx="179.7" cy="386.4" r="2.2"/><circle cx="183.0" cy="395.1" r="2.2"/><circle cx="182.0" cy="414.4" r="2.2"/><circle cx="175.9" cy="322.4" r="2.2"/><circle cx="183.0" cy="420.2" r="2.2"/><circle cx="179.4" cy="345.3" r="2.2"/><circle cx="180.7" cy="390.7" r="2.2"/><circle cx="180.0" cy="337.4" r="2.2"/><circle cx="181.4" cy="402.2" r="2.2"/><circle cx="179.3" cy="298.8" r="2.2"/><circle cx="182.2" cy="395.3" r="2.2"/><circle cx="181.3" cy="347.5" r="2.2"/><circle cx="178.3" cy="351.3" r="2.2"/><circle cx="176.9" cy="302.8" r="2.2"/><circle cx="180.0" cy="376.3" r="2.2"/><circle cx="184.3" cy="427.2" r="2.2"/><circle cx="180.3" cy="355.4" r="2.2"/><circle cx="181.0" cy="376.5" r="2.2"/><circle cx="179.9" cy="360.8" r="2.2"/><circle cx="181.2" cy="360.2" r="2.2"/><circle cx="178.4" cy="316.2" r="2.2"/><circle cx="179.8" cy="331.9" r="2.2"/><circle cx="177.4" cy="298.7" r="2.2"/><circle cx="180.4" cy="353.1" r="2.2"/><circle cx="176.2" cy="317.8" r="2.2"/><circle cx="177.7" cy="307.5" r="2.2"/><circle cx="178.2" cy="372.8" r="2.2"/><circle cx="176.0" cy="314.1" r="2.2"/><circle cx="183.6" cy="428.7" r="2.2"/><circle cx="179.3" cy="371.1" r="2.2"/><circle cx="182.4" cy="385.0" r="2.2"/><circle cx="179.1" cy="386.7" r="2.2"/><circle cx="179.5" cy="352.6" r="2.2"/><circle cx="178.1" cy="294.5" r="2.2"/><circle cx="177.7" cy="334.9" r="2.2"/><circle cx="181.1" cy="379.9" r="2.2"/><circle cx="181.3" cy="361.0" r="2.2"/><circle cx="179.3" cy="364.3" r="2.2"/><circle cx="177.5" cy="297.5" r="2.2"/><circle cx="179.3" cy="341.4" r="2.2"/><circle cx="176.9" cy="339.1" r="2.2"/><circle cx="175.4" cy="293.6" r="2.2"/><circle cx="179.0" cy="301.8" r="2.2"/><circle cx="179.2" cy="373.4" r="2.2"/><circle cx="182.2" cy="392.5" r="2.2"/><circle cx="178.3" cy="297.1" r="2.2"/><circle cx="179.4" cy="321.6" r="2.2"/><circle cx="176.5" cy="308.9" r="2.2"/><circle cx="179.1" cy="324.6" r="2.2"/><circle cx="182.9" cy="408.3" r="2.2"/><circle cx="177.1" cy="309.9" r="2.2"/><circle cx="179.7" cy="391.2" r="2.2"/><circle cx="184.9" cy="423.4" r="2.2"/><circle cx="184.4" cy="425.0" r="2.2"/><circle cx="182.7" cy="378.8" r="2.2"/><circle cx="177.0" cy="327.2" r="2.2"/><circle cx="176.1" cy="306.1" r="2.2"/><circle cx="180.7" cy="405.4" r="2.2"/><circle cx="181.5" cy="397.4" r="2.2"/><circle cx="184.2" cy="417.0" r="2.2"/><circle cx="182.8" cy="389.0" r="2.2"/><circle cx="175.9" cy="294.3" r="2.2"/><circle cx="178.9" cy="342.2" r="2.2"/><circle cx="182.8" cy="386.5" r="2.2"/><circle cx="183.7" cy="396.8" r="2.2"/><circle cx="180.9" cy="390.3" r="2.2"/><circle cx="180.9" cy="362.7" r="2.2"/><circle cx="182.0" cy="407.8" r="2.2"/><circle cx="179.6" cy="340.2" r="2.2"/><circle cx="178.9" cy="321.6" r="2.2"/><circle cx="176.7" cy="288.0" r="2.2"/><circle cx="178.5" cy="359.4" r="2.2"/><circle cx="180.1" cy="371.8" r="2.2"/><circle cx="185.4" cy="429.4" r="2.2"/><circle cx="181.9" cy="374.2" r="2.2"/><circle cx="181.7" cy="417.9" r="2.2"/><circle cx="184.1" cy="409.6" r="2.2"/><circle cx="185.1" cy="433.7" r="2.2"/><circle cx="178.1" cy="345.6" r="2.2"/><circle cx="179.8" cy="384.0" r="2.2"/><circle cx="182.4" cy="399.3" r="2.2"/><circle cx="182.0" cy="409.4" r="2.2"/><circle cx="180.1" cy="332.5" r="2.2"/><circle cx="180.6" cy="385.4" r="2.2"/><circle cx="179.9" cy="370.4" r="2.2"/><circle cx="181.0" cy="382.5" r="2.2"/><circle cx="180.1" cy="330.0" r="2.2"/><circle cx="184.2" cy="418.1" r="2.2"/><circle cx="176.7" cy="328.9" r="2.2"/><circle cx="183.2" cy="395.5" r="2.2"/><circle cx="179.8" cy="384.0" r="2.2"/><circle cx="181.8" cy="393.9" r="2.2"/><circle cx="179.6" cy="342.9" r="2.2"/><circle cx="180.2" cy="354.0" r="2.2"/><circle cx="184.6" cy="401.5" r="2.2"/><circle cx="186.9" cy="432.7" r="2.2"/><circle cx="186.1" cy="427.6" r="2.2"/><circle cx="186.4" cy="388.7" r="2.2"/><circle cx="180.2" cy="304.2" r="2.2"/><circle cx="185.2" cy="407.0" r="2.2"/><circle cx="181.8" cy="341.9" r="2.2"/><circle cx="183.5" cy="383.6" r="2.2"/><circle cx="181.1" cy="334.8" r="2.2"/><circle cx="184.6" cy="425.8" r="2.2"/><circle cx="185.3" cy="401.9" r="2.2"/><circle cx="181.2" cy="351.9" r="2.2"/><circle cx="183.2" cy="415.8" r="2.2"/><circle cx="182.3" cy="403.1" r="2.2"/><circle cx="183.9" cy="410.6" r="2.2"/><circle cx="180.6" cy="301.6" r="2.2"/><circle cx="178.7" cy="308.0" r="2.2"/><circle cx="182.7" cy="356.9" r="2.2"/><circle cx="181.8" cy="342.5" r="2.2"/><circle cx="186.5" cy="409.9" r="2.2"/><circle cx="184.5" cy="354.1" r="2.2"/><circle cx="178.4" cy="310.5" r="2.2"/><circle cx="178.6" cy="334.2" r="2.2"/><circle cx="185.1" cy="404.1" r="2.2"/><circle cx="185.4" cy="416.0" r="2.2"/><circle cx="183.6" cy="379.6" r="2.2"/><circle cx="186.8" cy="411.5" r="2.2"/><circle cx="182.4" cy="378.2" r="2.2"/><circle cx="181.4" cy="355.0" r="2.2"/><circle cx="184.1" cy="433.9" r="2.2"/><circle cx="177.7" cy="326.5" r="2.2"/><circle cx="178.6" cy="330.4" r="2.2"/><circle cx="179.2" cy="322.9" r="2.2"/><circle cx="186.2" cy="403.4" r="2.2"/><circle cx="186.9" cy="361.5" r="2.2"/><circle cx="184.1" cy="421.3" r="2.2"/><circle cx="184.2" cy="406.1" r="2.2"/><circle cx="179.7" cy="356.0" r="2.2"/><circle cx="182.6" cy="394.9" r="2.2"/><circle cx="182.2" cy="375.7" r="2.2"/><circle cx="188.8" cy="394.9" r="2.2"/><circle cx="185.6" cy="407.2" r="2.2"/><circle cx="185.6" cy="429.2" r="2.2"/><circle cx="184.2" cy="410.0" r="2.2"/><circle cx="185.4" cy="417.2" r="2.2"/><circle cx="183.0" cy="398.9" r="2.2"/><circle cx="184.5" cy="428.4" r="2.2"/><circle cx="184.6" cy="416.1" r="2.2"/><circle cx="184.6" cy="388.5" r="2.2"/><circle cx="182.2" cy="393.6" r="2.2"/><circle cx="182.0" cy="390.5" r="2.2"/><circle cx="189.1" cy="424.1" r="2.2"/><circle cx="189.0" cy="426.9" r="2.2"/><circle cx="187.1" cy="412.8" r="2.2"/><circle cx="187.1" cy="412.9" r="2.2"/><circle cx="184.1" cy="406.3" r="2.2"/><circle cx="182.1" cy="397.5" r="2.2"/><circle cx="190.2" cy="408.0" r="2.2"/><circle cx="190.1" cy="413.8" r="2.2"/><circle cx="185.5" cy="422.0" r="2.2"/><circle cx="185.5" cy="429.3" r="2.2"/><circle cx="184.1" cy="432.9" r="2.2"/><circle cx="185.5" cy="425.0" r="2.2"/><circle cx="184.9" cy="429.5" r="2.2"/><circle cx="186.8" cy="415.1" r="2.2"/><circle cx="181.8" cy="390.7" r="2.2"/><circle cx="187.4" cy="422.2" r="2.2"/><circle cx="182.2" cy="389.4" r="2.2"/><circle cx="184.3" cy="433.5" r="2.2"/><circle cx="184.9" cy="396.8" r="2.2"/><circle cx="188.7" cy="428.4" r="2.2"/><circle cx="184.0" cy="391.3" r="2.2"/><circle cx="183.7" cy="410.8" r="2.2"/><circle cx="189.1" cy="418.1" r="2.2"/><circle cx="180.9" cy="299.0" r="2.2"/><circle cx="179.0" cy="335.8" r="2.2"/><circle cx="177.9" cy="327.6" r="2.2"/><circle cx="181.9" cy="330.8" r="2.2"/><circle cx="190.9" cy="433.3" r="2.2"/><circle cx="191.0" cy="413.8" r="2.2"/><circle cx="185.0" cy="393.6" r="2.2"/><circle cx="178.5" cy="326.5" r="2.2"/><circle cx="181.5" cy="369.3" r="2.2"/><circle cx="184.7" cy="397.3" r="2.2"/><circle cx="184.5" cy="374.0" r="2.2"/><circle cx="182.0" cy="381.0" r="2.2"/><circle cx="181.3" cy="327.2" r="2.2"/><circle cx="180.4" cy="320.9" r="2.2"/><circle cx="188.0" cy="429.9" r="2.2"/><circle cx="190.4" cy="429.4" r="2.2"/><circle cx="189.2" cy="426.9" r="2.2"/><circle cx="188.2" cy="399.2" r="2.2"/><circle cx="179.5" cy="318.3" r="2.2"/><circle cx="183.9" cy="374.2" r="2.2"/><circle cx="188.8" cy="385.7" r="2.2"/><circle cx="190.1" cy="405.3" r="2.2"/><circle cx="180.3" cy="310.8" r="2.2"/><circle cx="188.4" cy="381.0" r="2.2"/><circle cx="176.9" cy="290.4" r="2.2"/><circle cx="187.9" cy="431.5" r="2.2"/><circle cx="186.7" cy="392.3" r="2.2"/><circle cx="182.1" cy="347.7" r="2.2"/><circle cx="187.7" cy="371.5" r="2.2"/><circle cx="185.8" cy="367.3" r="2.2"/><circle cx="182.4" cy="334.0" r="2.2"/><circle cx="186.5" cy="377.7" r="2.2"/><circle cx="183.8" cy="417.5" r="2.2"/><circle cx="190.4" cy="430.2" r="2.2"/><circle cx="180.2" cy="327.7" r="2.2"/><circle cx="178.3" cy="304.0" r="2.2"/><circle cx="189.7" cy="411.5" r="2.2"/><circle cx="184.5" cy="415.6" r="2.2"/><circle cx="178.9" cy="305.7" r="2.2"/><circle cx="184.8" cy="361.9" r="2.2"/><circle cx="182.4" cy="333.3" r="2.2"/><circle cx="182.6" cy="374.7" r="2.2"/><circle cx="182.9" cy="404.2" r="2.2"/><circle cx="181.9" cy="375.9" r="2.2"/><circle cx="178.7" cy="296.2" r="2.2"/><circle cx="184.4" cy="365.4" r="2.2"/><circle cx="184.9" cy="344.4" r="2.2"/><circle cx="183.7" cy="403.7" r="2.2"/><circle cx="179.4" cy="290.7" r="2.2"/><circle cx="180.0" cy="349.6" r="2.2"/><circle cx="180.3" cy="315.8" r="2.2"/><circle cx="178.8" cy="315.6" r="2.2"/><circle cx="184.2" cy="388.1" r="2.2"/><circle cx="189.0" cy="384.8" r="2.2"/><circle cx="188.3" cy="405.0" r="2.2"/><circle cx="183.3" cy="380.7" r="2.2"/><circle cx="186.3" cy="382.9" r="2.2"/><circle cx="184.2" cy="375.1" r="2.2"/><circle cx="183.8" cy="399.0" r="2.2"/><circle cx="190.3" cy="393.4" r="2.2"/><circle cx="177.8" cy="295.2" r="2.2"/><circle cx="184.8" cy="432.9" r="2.2"/><circle cx="188.2" cy="408.6" r="2.2"/><circle cx="179.9" cy="300.1" r="2.2"/><circle cx="179.2" cy="291.1" r="2.2"/><circle cx="183.6" cy="333.8" r="2.2"/><circle cx="184.6" cy="420.2" r="2.2"/><circle cx="180.3" cy="348.4" r="2.2"/><circle cx="182.9" cy="399.9" r="2.2"/><circle cx="177.9" cy="300.7" r="2.2"/><circle cx="185.3" cy="414.5" r="2.2"/><circle cx="181.3" cy="336.8" r="2.2"/><circle cx="183.1" cy="370.0" r="2.2"/><circle cx="187.2" cy="427.3" r="2.2"/><circle cx="185.7" cy="359.0" r="2.2"/><circle cx="178.4" cy="325.3" r="2.2"/><circle cx="185.8" cy="411.3" r="2.2"/><circle cx="191.6" cy="419.3" r="2.2"/><circle cx="181.2" cy="344.1" r="2.2"/><circle cx="180.9" cy="304.7" r="2.2"/><circle cx="181.8" cy="354.2" r="2.2"/><circle cx="178.2" cy="315.6" r="2.2"/><circle cx="184.3" cy="416.7" r="2.2"/><circle cx="184.8" cy="370.4" r="2.2"/><circle cx="183.5" cy="365.5" r="2.2"/><circle cx="180.5" cy="347.6" r="2.2"/><circle cx="180.1" cy="290.5" r="2.2"/><circle cx="180.4" cy="276.3" r="2.2"/><circle cx="177.6" cy="289.8" r="2.2"/><circle cx="171.2" cy="291.3" r="2.2"/><circle cx="180.7" cy="289.7" r="2.2"/><circle cx="180.2" cy="281.4" r="2.2"/><circle cx="179.4" cy="295.0" r="2.2"/><circle cx="167.5" cy="287.7" r="2.2"/><circle cx="172.7" cy="284.5" r="2.2"/><circle cx="176.2" cy="282.8" r="2.2"/><circle cx="167.2" cy="292.4" r="2.2"/><circle cx="173.7" cy="279.1" r="2.2"/><circle cx="166.5" cy="272.7" r="2.2"/><circle cx="179.5" cy="281.0" r="2.2"/><circle cx="178.4" cy="277.1" r="2.2"/><circle cx="172.2" cy="291.3" r="2.2"/><circle cx="176.6" cy="285.6" r="2.2"/><circle cx="175.8" cy="276.8" r="2.2"/><circle cx="170.3" cy="292.6" r="2.2"/><circle cx="171.5" cy="292.1" r="2.2"/><circle cx="181.4" cy="294.0" r="2.2"/><circle cx="170.2" cy="276.5" r="2.2"/><circle cx="172.6" cy="290.1" r="2.2"/><circle cx="177.8" cy="288.6" r="2.2"/><circle cx="179.4" cy="291.6" r="2.2"/><circle cx="166.3" cy="288.4" r="2.2"/><circle cx="171.2" cy="285.0" r="2.2"/><circle cx="169.6" cy="291.6" r="2.2"/><circle cx="170.1" cy="292.3" r="2.2"/><circle cx="167.2" cy="286.8" r="2.2"/><circle cx="172.0" cy="293.1" r="2.2"/><circle cx="169.4" cy="286.0" r="2.2"/><circle cx="174.9" cy="284.2" r="2.2"/><circle cx="172.0" cy="290.6" r="2.2"/><circle cx="174.4" cy="286.7" r="2.2"/><circle cx="174.9" cy="284.5" r="2.2"/><circle cx="173.0" cy="285.8" r="2.2"/><circle cx="177.5" cy="287.5" r="2.2"/><circle cx="170.0" cy="289.2" r="2.2"/><circle cx="170.9" cy="287.2" r="2.2"/><circle cx="173.1" cy="290.0" r="2.2"/><circle cx="174.3" cy="287.1" r="2.2"/><circle cx="175.7" cy="287.5" r="2.2"/><circle cx="178.3" cy="293.1" r="2.2"/><circle cx="175.5" cy="290.5" r="2.2"/><circle cx="168.9" cy="289.5" r="2.2"/><circle cx="170.9" cy="292.6" r="2.2"/><circle cx="175.7" cy="286.0" r="2.2"/><circle cx="165.6" cy="308.4" r="2.2"/><circle cx="164.6" cy="380.7" r="2.2"/><circle cx="165.1" cy="317.6" r="2.2"/><circle cx="165.2" cy="357.3" r="2.2"/><circle cx="165.5" cy="304.2" r="2.2"/><circle cx="164.9" cy="352.2" r="2.2"/><circle cx="165.1" cy="397.1" r="2.2"/><circle cx="164.6" cy="354.5" r="2.2"/><circle cx="164.2" cy="357.6" r="2.2"/><circle cx="165.4" cy="327.1" r="2.2"/><circle cx="164.3" cy="307.4" r="2.2"/><circle cx="164.8" cy="413.0" r="2.2"/><circle cx="165.1" cy="366.8" r="2.2"/><circle cx="164.7" cy="394.1" r="2.2"/><circle cx="164.2" cy="401.7" r="2.2"/><circle cx="164.7" cy="412.9" r="2.2"/><circle cx="164.7" cy="380.7" r="2.2"/><circle cx="164.8" cy="398.7" r="2.2"/><circle cx="164.7" cy="377.3" r="2.2"/><circle cx="165.4" cy="410.7" r="2.2"/><circle cx="165.3" cy="319.2" r="2.2"/><circle cx="164.6" cy="426.7" r="2.2"/><circle cx="165.6" cy="317.6" r="2.2"/><circle cx="164.4" cy="429.6" r="2.2"/><circle cx="165.6" cy="402.5" r="2.2"/><circle cx="175.3" cy="248.4" r="2.2"/><circle cx="172.0" cy="255.4" r="2.2"/><circle cx="176.9" cy="255.7" r="2.2"/><circle cx="181.4" cy="257.8" r="2.2"/><circle cx="186.4" cy="255.4" r="2.2"/><circle cx="188.2" cy="260.7" r="2.2"/><circle cx="174.7" cy="267.7" r="2.2"/><circle cx="179.6" cy="266.8" r="2.2"/><circle cx="166.7" cy="273.2" r="2.2"/><circle cx="170.0" cy="276.6" r="2.2"/><circle cx="172.2" cy="282.4" r="2.2"/><circle cx="178.4" cy="281.8" r="2.2"/><circle cx="177.7" cy="285.5" r="2.2"/><circle cx="171.0" cy="285.5" r="2.2"/><circle cx="167.3" cy="289.2" r="2.2"/><circle cx="185.5" cy="295.3" r="2.2"/><circle cx="182.0" cy="299.3" r="2.2"/><circle cx="190.0" cy="306.4" r="2.2"/><circle cx="186.4" cy="304.6" r="2.2"/><circle cx="191.9" cy="314.4" r="2.2"/><circle cx="188.0" cy="318.7" r="2.2"/><circle cx="191.7" cy="355.4" r="2.2"/><circle cx="195.4" cy="355.4" r="2.2"/><circle cx="188.6" cy="375.4" r="2.2"/><circle cx="190.8" cy="395.4" r="2.2"/><circle cx="193.8" cy="400.0" r="2.2"/><circle cx="195.4" cy="413.8" r="2.2"/><circle cx="189.2" cy="424.6" r="2.2"/><circle cx="190.8" cy="410.8" r="2.2"/><circle cx="187.0" cy="430.0" r="2.2"/><circle cx="186.0" cy="380.0" r="2.2"/><circle cx="187.0" cy="366.0" r="2.2"/></g>
<line x1="144.5" y1="197.1" x2="144.5" y2="449.4" stroke="#6a6a6a" stroke-width="1.1" stroke-dasharray="1.5,2.5,4.6,2.5,4.6,2.5,4.6,2.5,4.6,2.5,4.6,2.5,4.6,2.5,4.6,2.5,4.6,2.5,4.6,2.5,4.6,2.5,4.6,2.5,4.6,2.5,4.6,2.5,4.6,2.5,4.6,2.5,4.6,2.5,4.6,2.5,4.6,2.5,4.6,2.5,4.6,2.5,4.6,2.5,4.6,2.5,4.6,2.5,4.6,2.5,4.6,2.5,4.6,2.5,4.6,2.5,4.6,2.5,4.6,2.5,4.6,2.5,4.6,2.5,4.6,2.5,4.6,2.5,4.6,2.5,4.6,2.5,4.6,2.5,4.6,2.5,4.6,2.5,4.6,2.5,4.6,2.5,4.6,2.5,4.6,2.5"/>
<line x1="162.4" y1="197.1" x2="162.4" y2="449.4" stroke="#6a6a6a" stroke-width="1.1" stroke-dasharray="1.5,2.5,4.6,2.5,4.6,2.5,4.6,2.5,4.6,2.5,4.6,2.5,4.6,2.5,4.6,2.5,4.6,2.5,4.6,2.5,4.6,2.5,4.6,2.5,4.6,2.5,4.6,2.5,4.6,2.5,4.6,2.5,4.6,2.5,4.6,2.5,4.6,2.5,4.6,2.5,4.6,2.5,4.6,2.5,4.6,2.5,4.6,2.5,4.6,2.5,4.6,2.5,4.6,2.5,4.6,2.5,4.6,2.5,4.6,2.5,4.6,2.5,4.6,2.5,4.6,2.5,4.6,2.5,4.6,2.5,4.6,2.5,4.6,2.5,4.6,2.5,4.6,2.5,4.6,2.5,4.6,2.5,4.6,2.5,4.6,2.5,4.6,2.5"/>
<line x1="30.9" y1="435.4" x2="212.9" y2="435.4" stroke="#6a6a6a" stroke-width="1.1" stroke-dasharray="4.6,2.6"/>
<g stroke="#fff" stroke-width="0.9" stroke-opacity="0.55" paint-order="stroke" stroke-linejoin="round">
<text x="111.20" y="242.80" font-size="8.9" fill="#3c3c3c" textLength="29.30" lengthAdjust="spacingAndGlyphs">E19383</text>
<text x="119.00" y="373.60" font-size="8.9" fill="#3c3c3c" textLength="30.70" lengthAdjust="spacingAndGlyphs">E34232</text>
<text x="122" y="386.1" font-size="8.9" fill="#3c3c3c" textLength="24.8" lengthAdjust="spacingAndGlyphs">(<tspan font-style="italic">MYC</tspan>)</text>
<text x="82.60" y="383.20" font-size="8.9" fill="#3c3c3c" textLength="29.20" lengthAdjust="spacingAndGlyphs">E15788</text>
<text x="82.6" y="394.9" font-size="8.9" fill="#3c3c3c" textLength="28.6" lengthAdjust="spacingAndGlyphs">(<tspan font-style="italic">MIR21</tspan>)</text>
<text x="60.70" y="409.50" font-size="8.9" fill="#3c3c3c" textLength="30.60" lengthAdjust="spacingAndGlyphs">E34235</text>
<text x="109.40" y="414.50" font-size="8.9" fill="#3c3c3c" textLength="27.80" lengthAdjust="spacingAndGlyphs">E12787</text>
<text x="50.40" y="424.10" font-size="8.9" fill="#3c3c3c" textLength="28.60" lengthAdjust="spacingAndGlyphs">E29176</text>
<text x="77.6" y="446.6" font-size="8.9" fill="#3c3c3c" textLength="56" lengthAdjust="spacingAndGlyphs">E21248(<tspan font-style="italic">NRP2</tspan>)</text>
</g>
<path d="M130.8,244.6 L134.9,248 M132.2,389 L132.2,394.9 M113.2,392 L125.8,399.3 M91.3,408 L105.3,418.2 M122.8,416.8 L128.4,428.5 M73.8,425 L80.2,429 M133.6,432.8 L132.2,437.2" stroke="#222" stroke-width="0.7"/>
<text x="84" y="481.1" font-size="10.5" fill="#3c3c3c" textLength="80" lengthAdjust="spacingAndGlyphs">log<tspan font-size="7" dy="2.5">2</tspan><tspan dy="-2.5"> fold change</tspan></text>
<text transform="translate(11.6,320.5) rotate(-90)" text-anchor="middle" font-size="10.5" fill="#3c3c3c">−log<tspan font-size="7" dy="2.5">10</tspan><tspan dy="-2.5"> (</tspan><tspan font-style="italic">P</tspan> value)</text>
<text x="251.40" y="197.00" font-size="13.5" fill="#1a1a1a" font-weight="bold">d</text>
<rect x="277.5" y="200.30" width="137.00" height="13.3" fill="#c4e2aa"/>
<text x="281.70" y="209.30" font-size="9.2" fill="#3c3c3c" textLength="72.20" lengthAdjust="spacingAndGlyphs">Spindle assembly</text>
<rect x="277.5" y="226.05" width="113.70" height="13.3" fill="#c4e2aa"/>
<text x="281.70" y="235.05" font-size="9.2" fill="#3c3c3c" textLength="205.50" lengthAdjust="spacingAndGlyphs">RNA polymerase II preinitiation complex assembly</text>
<rect x="277.5" y="251.80" width="100.50" height="13.3" fill="#c4e2aa"/>
<text x="281.70" y="260.80" font-size="9.2" fill="#3c3c3c" textLength="129.30" lengthAdjust="spacingAndGlyphs">Regulation of meiotic cell cycle</text>
<rect x="277.5" y="277.55" width="93.50" height="13.3" fill="#c4e2aa"/>
<text x="281.70" y="286.55" font-size="9.2" fill="#3c3c3c" textLength="40.30" lengthAdjust="spacingAndGlyphs">Cell cycle</text>
<rect x="277.5" y="303.30" width="87.40" height="13.3" fill="#c4e2aa"/>
<text x="281.70" y="312.30" font-size="9.2" fill="#3c3c3c" textLength="49.60" lengthAdjust="spacingAndGlyphs">Cell division</text>
<rect x="277.5" y="329.05" width="79.20" height="13.3" fill="#c4e2aa"/>
<text x="281.70" y="338.05" font-size="9.2" fill="#3c3c3c" textLength="131.30" lengthAdjust="spacingAndGlyphs">mRNA splicing, via spliceosome</text>
<rect x="277.5" y="354.80" width="25.50" height="13.3" fill="#c4e2aa"/>
<text x="281.70" y="363.80" font-size="9.2" fill="#3c3c3c" textLength="67.70" lengthAdjust="spacingAndGlyphs">rRNA processing</text>
<rect x="277.5" y="380.55" width="24.60" height="13.3" fill="#c4e2aa"/>
<text x="281.70" y="389.55" font-size="9.2" fill="#3c3c3c" textLength="146.50" lengthAdjust="spacingAndGlyphs">Ribosomal small subunit biogenesis</text>
<rect x="277.5" y="406.30" width="24.00" height="13.3" fill="#c4e2aa"/>
<text x="281.70" y="415.30" font-size="9.2" fill="#3c3c3c" textLength="44.30" lengthAdjust="spacingAndGlyphs">Translation</text>
<rect x="277.5" y="432.05" width="24.00" height="13.3" fill="#c4e2aa"/>
<text x="281.70" y="441.05" font-size="9.2" fill="#3c3c3c" textLength="97.20" lengthAdjust="spacingAndGlyphs">Cytoplasmic translation</text>
<line x1="277.5" y1="197.5" x2="277.5" y2="449.6" stroke="#777" stroke-width="1"/>
<line x1="277.5" y1="449.6" x2="438.7" y2="449.6" stroke="#777" stroke-width="1"/>
<line x1="277.50" y1="449.6" x2="277.50" y2="452.8" stroke="#777" stroke-width="1"/>
<text x="277.50" y="465.70" font-size="9.4" fill="#3c3c3c" text-anchor="middle">0</text>
<line x1="309.05" y1="449.6" x2="309.05" y2="452.8" stroke="#777" stroke-width="1"/>
<text x="309.05" y="465.70" font-size="9.4" fill="#3c3c3c" text-anchor="middle">5</text>
<line x1="340.60" y1="449.6" x2="340.60" y2="452.8" stroke="#777" stroke-width="1"/>
<text x="340.60" y="465.70" font-size="9.4" fill="#3c3c3c" text-anchor="middle">10</text>
<line x1="372.15" y1="449.6" x2="372.15" y2="452.8" stroke="#777" stroke-width="1"/>
<text x="372.15" y="465.70" font-size="9.4" fill="#3c3c3c" text-anchor="middle">15</text>
<line x1="403.70" y1="449.6" x2="403.70" y2="452.8" stroke="#777" stroke-width="1"/>
<text x="403.70" y="465.70" font-size="9.4" fill="#3c3c3c" text-anchor="middle">20</text>
<line x1="435.25" y1="449.6" x2="435.25" y2="452.8" stroke="#777" stroke-width="1"/>
<text x="435.25" y="465.70" font-size="9.4" fill="#3c3c3c" text-anchor="middle">25</text>
<text x="321.3" y="478.8" font-size="10.5" fill="#3c3c3c">−log<tspan font-size="7" dy="2.5">10</tspan><tspan dy="-2.5"> (</tspan><tspan font-style="italic">P</tspan>-value)</text>
<text x="531.00" y="197.70" font-size="13.5" fill="#1a1a1a" font-weight="bold">e</text>
<circle cx="583.6" cy="275.3" r="52.6" fill="#fbb777"/>
<path d="M583.6,275.3 L583.6,222.70000000000002 A52.6,52.6 0 0 1 616.41,234.19 Z" fill="#b9d98a"/>
<line x1="598.7" y1="235.3" x2="612.6" y2="216.2" stroke="#3c4a62" stroke-width="1.3"/>
<path d="M614.9,213 L609.9,216.5 L612.2,217 L612.8,219.6 Z" fill="#3c4a62"/>
<text x="605.60" y="210.00" font-size="10.3" fill="#3c3c3c" textLength="32.90" lengthAdjust="spacingAndGlyphs">10.72%</text>
<text x="565.00" y="291.10" font-size="10.3" fill="#3c3c3c" textLength="34.90" lengthAdjust="spacingAndGlyphs">89.28%</text>
<rect x="546" y="352" width="9.8" height="9.4" fill="#b1d88a"/>
<rect x="546" y="372.3" width="9.8" height="9.4" fill="#fbb777"/>
<text x="561.70" y="359.70" font-size="10.3" fill="#3c3c3c" textLength="87.60" lengthAdjust="spacingAndGlyphs">Intergenic regions</text>
<text x="561.70" y="374.60" font-size="10.3" fill="#3c3c3c" textLength="118.30" lengthAdjust="spacingAndGlyphs">Genic regions (including</text>
<text x="561.70" y="386.60" font-size="10.3" fill="#3c3c3c" textLength="104.70" lengthAdjust="spacingAndGlyphs">2-kb flanking regions)</text>
<text x="2.40" y="511.10" font-size="13.5" fill="#1a1a1a" font-weight="bold">f</text>
<text transform="translate(12,585) rotate(-90)" text-anchor="middle" font-size="11.2" fill="#3c3c3c" textLength="43.3" lengthAdjust="spacingAndGlyphs">H3K27ac</text>
<line x1="13.8" y1="534.8" x2="13.8" y2="628.9" stroke="#777" stroke-width="0.9"/>
<text transform="translate(21.9,545.4) rotate(-90)" text-anchor="middle" font-size="8.2" fill="#4b4ba6" textLength="43.3" lengthAdjust="spacingAndGlyphs">Normal brain</text>
<text transform="translate(21.9,589.6) rotate(-90)" text-anchor="middle" font-size="8.2" fill="#e8404e" textLength="23.1" lengthAdjust="spacingAndGlyphs">Glioma</text>
<text transform="translate(21.9,621.5) rotate(-90)" text-anchor="middle" font-size="8.2" fill="#9050b0" textLength="14.8" lengthAdjust="spacingAndGlyphs">U251</text>
<text x="13.70" y="512.20" font-size="10.4" fill="#3c3c3c" textLength="140.60" lengthAdjust="spacingAndGlyphs">chr 8: 127,732,409-127,744,152</text>
<text x="75.70" y="528.40" font-size="10.4" fill="#3c3c3c" textLength="35.50" lengthAdjust="spacingAndGlyphs">E34232</text>
<text x="159.70" y="534.70" font-size="10.8" fill="#3c3c3c" textLength="25.00" lengthAdjust="spacingAndGlyphs">[0, 8]</text>
<text x="159.70" y="554.20" font-size="10.8" fill="#3c3c3c" textLength="25.00" lengthAdjust="spacingAndGlyphs">[0, 8]</text>
<text x="159.70" y="573.90" font-size="10.8" fill="#3c3c3c" textLength="25.00" lengthAdjust="spacingAndGlyphs">[0, 8]</text>
<text x="159.70" y="593.50" font-size="10.8" fill="#3c3c3c" textLength="25.00" lengthAdjust="spacingAndGlyphs">[0, 8]</text>
<text x="159.70" y="613.40" font-size="10.8" fill="#3c3c3c" textLength="25.00" lengthAdjust="spacingAndGlyphs">[0, 8]</text>
<line x1="27.9" y1="544.3" x2="182.4" y2="544.3" stroke="#8b97d0" stroke-width="0.8"/>
<line x1="27.9" y1="564.2" x2="182.4" y2="564.2" stroke="#8b97d0" stroke-width="0.8"/>
<line x1="27.9" y1="584.4" x2="182.4" y2="584.4" stroke="#f4a0a8" stroke-width="0.8" stroke-dasharray="3,1.5"/>
<line x1="27.9" y1="604.7" x2="182.4" y2="604.7" stroke="#fbd0d4" stroke-width="0.8" stroke-dasharray="3,2"/>
<line x1="27.9" y1="625.0" x2="182.4" y2="625.0" stroke="#c9a8d8" stroke-width="0.8" stroke-dasharray="2,2"/>
<path d="M64.00,544.30 L64.00,544.30 L65.00,543.94 L66.00,543.45 L66.80,543.12 L67.60,543.45 L68.40,543.37 L69.20,543.27 L70.00,543.55 L70.71,543.25 L71.43,543.11 L72.14,542.94 L72.86,543.45 L73.57,543.24 L74.29,543.37 L75.00,542.75 L75.71,542.89 L76.43,543.45 L77.14,542.74 L77.86,542.80 L78.57,543.09 L79.29,543.16 L80.00,543.57 L81.00,543.04 L82.00,541.98 L82.80,542.45 L83.60,542.45 L84.40,542.51 L85.20,542.78 L86.00,542.53 L86.80,542.47 L87.60,542.07 L88.40,542.24 L89.20,542.07 L90.00,542.10 L90.71,542.03 L91.43,542.25 L92.14,542.45 L92.86,541.93 L93.57,541.99 L94.29,542.17 L95.00,542.33 L95.80,542.49 L96.60,542.40 L97.40,542.19 L98.20,542.20 L99.00,541.49 L99.80,541.82 L100.60,541.50 L101.40,541.91 L102.20,541.49 L103.00,541.62 L103.75,542.45 L104.50,542.43 L105.25,542.02 L106.00,542.52 L106.80,541.92 L107.60,542.18 L108.40,542.24 L109.20,541.60 L110.00,541.28 L110.75,541.53 L111.50,541.53 L112.25,541.18 L113.00,540.53 L113.80,540.85 L114.60,541.53 L115.40,541.58 L116.20,541.86 L117.00,542.05 L117.75,541.66 L118.50,542.36 L119.25,542.25 L120.00,542.54 L120.80,542.95 L121.60,542.71 L122.40,543.40 L123.20,543.19 L124.00,543.81 L124.75,543.76 L125.50,544.13 L126.25,544.10 L127.00,544.30 L127.00,544.30 Z" fill="#2b3d92"/>
<path d="M64.00,564.20 L64.00,564.20 L64.75,564.15 L65.50,564.10 L66.25,564.05 L67.00,564.00 L67.75,563.95 L68.50,564.04 L69.25,563.57 L70.00,563.62 L70.71,563.86 L71.43,563.45 L72.14,563.80 L72.86,563.63 L73.57,563.30 L74.29,563.37 L75.00,563.64 L75.71,563.05 L76.43,563.46 L77.14,563.37 L77.86,563.01 L78.57,563.22 L79.29,563.18 L80.00,563.26 L80.71,563.25 L81.43,562.95 L82.14,563.15 L82.86,562.94 L83.57,563.08 L84.29,563.03 L85.00,562.72 L85.71,562.98 L86.43,562.90 L87.14,562.69 L87.86,563.08 L88.57,563.06 L89.29,562.58 L90.00,562.61 L90.71,562.92 L91.43,562.93 L92.14,562.57 L92.86,562.42 L93.57,562.84 L94.29,562.36 L95.00,562.37 L95.71,562.51 L96.43,562.59 L97.14,562.75 L97.86,562.76 L98.57,562.18 L99.29,562.59 L100.00,562.28 L100.71,562.55 L101.43,562.21 L102.14,562.34 L102.86,562.52 L103.57,562.59 L104.29,562.27 L105.00,562.66 L105.71,562.63 L106.43,562.51 L107.14,562.40 L107.86,562.62 L108.57,562.89 L109.29,562.58 L110.00,563.08 L110.71,563.28 L111.43,563.21 L112.14,563.19 L112.86,563.51 L113.57,563.52 L114.29,563.49 L115.00,563.46 L115.71,563.78 L116.43,563.70 L117.14,563.44 L117.86,563.44 L118.57,563.69 L119.29,563.73 L120.00,563.90 L120.73,563.93 L121.45,563.95 L122.18,563.98 L122.91,564.01 L123.64,564.04 L124.36,564.06 L125.09,564.09 L125.82,564.12 L126.55,564.15 L127.27,564.17 L128.00,564.20 L128.00,564.20 Z" fill="#2b3d92"/>
<path d="M67.20,584.40 L67.20,584.40 L68.20,583.81 L69.20,584.08 L69.98,583.82 L70.76,583.43 L71.54,581.58 L72.32,581.50 L73.10,580.66 L73.90,581.99 L74.70,580.82 L75.50,580.89 L76.30,580.31 L77.10,580.79 L78.10,578.05 L79.10,577.88 L80.40,573.83 L81.25,575.82 L82.10,577.86 L82.80,576.92 L83.50,575.77 L84.20,574.43 L84.90,573.04 L85.60,572.74 L86.30,571.00 L87.25,572.96 L88.20,575.31 L89.03,576.28 L89.85,575.94 L90.67,576.07 L91.50,576.78 L92.40,574.97 L93.30,573.62 L94.20,571.57 L95.15,572.28 L96.10,573.87 L97.10,572.68 L98.10,571.81 L98.92,570.89 L99.75,570.03 L100.58,569.48 L101.40,567.82 L102.23,568.85 L103.05,569.85 L103.88,569.98 L104.70,571.97 L105.47,571.05 L106.23,572.35 L107.00,571.59 L107.77,571.93 L108.53,572.48 L109.30,571.88 L110.17,572.54 L111.03,572.68 L111.90,572.53 L112.73,573.87 L113.55,574.53 L114.38,574.34 L115.20,574.01 L116.03,575.50 L116.85,576.28 L117.67,575.83 L118.50,576.94 L119.33,578.27 L120.15,578.52 L120.97,580.40 L121.80,580.83 L122.58,582.16 L123.36,582.37 L124.14,582.35 L124.92,582.76 L125.70,583.39 L126.48,584.26 L127.26,584.16 L128.04,584.24 L128.82,584.32 L129.60,584.40 L129.60,584.40 Z" fill="#e8283c"/>
<path d="M34.43,584.40 L34.43,583.94 L34.90,583.94 L34.90,584.40 Z M40.23,584.40 L40.23,583.68 L41.63,583.68 L41.63,584.40 Z M47.82,584.40 L47.82,583.62 L48.48,583.62 L48.48,584.40 Z M50.90,584.40 L50.90,583.87 L51.56,583.87 L51.56,584.40 Z M54.35,584.40 L54.35,583.89 L55.46,583.89 L55.46,584.40 Z M60.13,584.40 L60.13,583.94 L61.52,583.94 L61.52,584.40 Z " fill="#e8283c"/>
<path d="M136.52,584.40 L136.52,584.06 L136.87,584.06 L136.87,584.40 Z M147.25,584.40 L147.25,584.08 L148.47,584.08 L148.47,584.40 Z M154.96,584.40 L154.96,583.91 L156.29,583.91 L156.29,584.40 Z M157.15,584.40 L157.15,584.02 L158.04,584.02 L158.04,584.40 Z M159.40,584.40 L159.40,583.60 L160.01,583.60 L160.01,584.40 Z M162.81,584.40 L162.81,584.07 L163.92,584.07 L163.92,584.40 Z M169.27,584.40 L169.27,583.72 L170.42,583.72 L170.42,584.40 Z M179.34,584.40 L179.34,583.52 L180.53,583.52 L180.53,584.40 Z " fill="#e8283c"/>
<path d="M71.80,604.70 L71.80,604.70 L72.70,604.07 L73.60,603.82 L74.50,603.38 L75.28,602.36 L76.06,601.64 L76.84,602.01 L77.62,601.50 L78.40,601.02 L79.40,599.82 L80.40,599.37 L81.70,599.94 L82.47,599.31 L83.23,599.38 L84.00,598.39 L84.77,597.80 L85.53,598.51 L86.30,596.89 L87.25,597.84 L88.20,599.32 L89.10,598.63 L90.00,598.16 L90.90,597.53 L91.60,597.53 L92.30,596.52 L93.00,595.35 L93.70,594.72 L94.40,593.78 L95.25,596.30 L96.10,597.89 L96.92,598.19 L97.75,597.14 L98.58,596.68 L99.40,596.60 L100.40,596.20 L101.40,596.60 L102.40,596.29 L103.40,596.83 L104.27,596.60 L105.13,596.98 L106.00,596.39 L106.77,596.78 L107.53,595.69 L108.30,595.50 L109.07,595.95 L109.83,596.05 L110.60,595.28 L111.60,596.28 L112.60,597.12 L113.47,597.72 L114.33,598.56 L115.20,597.67 L116.07,598.94 L116.93,598.15 L117.80,599.26 L118.67,600.13 L119.53,600.60 L120.40,602.60 L121.20,602.97 L122.00,602.84 L122.80,602.93 L123.60,603.14 L124.40,603.73 L125.18,603.52 L125.96,604.29 L126.74,604.42 L127.52,604.56 L128.30,604.70 L128.30,604.70 Z" fill="#e8283c"/>
<path d="M144.36,604.70 L144.36,604.36 L144.95,604.36 L144.95,604.70 Z M153.45,604.70 L153.45,604.25 L154.70,604.25 L154.70,604.70 Z M163.93,604.70 L163.93,604.14 L165.33,604.14 L165.33,604.70 Z M173.43,604.70 L173.43,604.24 L174.23,604.24 L174.23,604.70 Z " fill="#f06070"/>
<path d="M60.00,625.00 L60.00,625.00 L60.70,624.95 L61.40,624.91 L62.10,624.86 L62.80,624.81 L63.50,624.77 L64.20,624.72 L64.90,624.19 L65.60,624.98 L66.30,624.16 L67.00,623.97 L67.70,624.46 L68.40,624.35 L69.10,624.75 L69.80,624.30 L70.50,624.30 L71.30,623.79 L72.10,624.11 L72.90,622.60 L73.70,622.76 L74.50,622.52 L75.37,620.94 L76.23,620.12 L77.10,619.11 L77.97,617.77 L78.83,617.42 L79.70,615.75 L80.57,617.20 L81.43,617.85 L82.30,619.19 L83.10,618.94 L83.90,617.65 L84.70,617.03 L85.50,615.62 L86.30,614.12 L87.12,614.52 L87.95,615.53 L88.77,616.22 L89.60,616.87 L90.55,616.66 L91.50,616.59 L92.33,616.57 L93.15,614.81 L93.97,614.75 L94.80,613.57 L95.80,614.18 L96.80,614.28 L97.67,614.28 L98.53,613.81 L99.40,613.06 L100.27,613.67 L101.13,612.92 L102.00,613.65 L102.90,613.39 L103.80,613.90 L104.70,614.16 L105.57,615.10 L106.43,616.54 L107.30,617.95 L108.12,616.90 L108.95,615.76 L109.77,615.21 L110.60,614.15 L111.60,614.64 L112.60,615.63 L113.47,616.43 L114.33,616.71 L115.20,617.67 L116.03,617.70 L116.85,618.77 L117.67,618.49 L118.50,618.73 L119.33,619.12 L120.15,620.32 L120.97,620.82 L121.80,620.59 L122.58,621.96 L123.36,621.54 L124.14,622.19 L124.92,623.62 L125.70,624.01 L126.48,623.53 L127.26,624.19 L128.04,624.48 L128.82,623.70 L129.60,624.29 L130.37,623.82 L131.14,624.59 L131.91,624.23 L132.69,623.86 L133.46,624.64 L134.23,624.39 L135.00,623.78 L135.76,623.61 L136.52,623.64 L137.28,624.76 L138.04,624.39 L138.80,624.19 L139.58,624.51 L140.35,624.30 L141.12,624.91 L141.90,625.00 L142.68,625.00 L143.45,625.00 L144.22,624.53 L145.00,624.58 L145.71,624.52 L146.43,625.00 L147.14,624.99 L147.86,624.97 L148.57,624.22 L149.29,624.04 L150.00,624.12 L150.71,625.00 L151.43,625.00 L152.14,624.11 L152.86,624.70 L153.57,624.34 L154.29,624.87 L155.00,624.71 L155.71,624.65 L156.43,624.76 L157.14,624.56 L157.86,625.00 L158.57,624.45 L159.29,624.28 L160.00,624.70 L160.71,624.72 L161.43,624.74 L162.14,624.76 L162.86,624.79 L163.57,624.81 L164.29,624.83 L165.00,624.85 L165.71,624.87 L166.43,624.89 L167.14,624.91 L167.86,624.94 L168.57,624.96 L169.29,624.98 L170.00,625.00 L170.00,625.00 Z" fill="#8a48a2"/>
<path d="M31.08,625.00 L31.08,624.52 L32.34,624.52 L32.34,625.00 Z M36.12,625.00 L36.12,624.62 L36.64,624.62 L36.64,625.00 Z M42.06,625.00 L42.06,624.69 L43.52,624.69 L43.52,625.00 Z M50.41,625.00 L50.41,624.42 L51.83,624.42 L51.83,625.00 Z M57.32,625.00 L57.32,624.54 L58.40,624.54 L58.40,625.00 Z " fill="#8a48a2"/>
<rect x="81.7" y="533.1" width="22.90" height="92.00" fill="#f79b33" fill-opacity="0.25" stroke="#cdbdb0" stroke-width="0.6"/>
<g fill="#1a1a1a"><rect x="83.9" y="633.1" width="12.2" height="3.7"/><rect x="95.6" y="631.3" width="1" height="7"/><rect x="112.4" y="630.9" width="7.6" height="7.6"/><rect x="133.8" y="630.9" width="5.7" height="7.6"/><rect x="139.5" y="632.9" width="20" height="4.2"/></g>
<line x1="96" y1="634.9" x2="133.8" y2="634.9" stroke="#999" stroke-width="0.7"/>
<path d="M99.2,633.6 L100.4,634.9 L99.2,636.2 M106.4,633.6 L107.6,634.9 L106.4,636.2 M122.6,633.6 L123.8,634.9 L122.6,636.2 M130.2,633.6 L131.4,634.9 L130.2,636.2" stroke="#444" stroke-width="0.6" fill="none"/>
<text x="101" y="649.2" font-size="10" fill="#3c3c3c" textLength="28.9" lengthAdjust="spacingAndGlyphs"><tspan font-style="italic">MYC</tspan> &gt;</text>
<text x="202.00" y="512.60" font-size="10.4" fill="#3c3c3c" textLength="150.00" lengthAdjust="spacingAndGlyphs">chr 2: 205,595,862-206,031,728</text>
<text x="223.00" y="528.00" font-size="10.4" fill="#3c3c3c" textLength="33.20" lengthAdjust="spacingAndGlyphs">E21248</text>
<text x="325.00" y="537.50" font-size="10.8" fill="#3c3c3c" textLength="25.40" lengthAdjust="spacingAndGlyphs">[0, 5]</text>
<text x="325.00" y="555.60" font-size="10.8" fill="#3c3c3c" textLength="25.40" lengthAdjust="spacingAndGlyphs">[0, 5]</text>
<text x="325.00" y="575.00" font-size="10.8" fill="#3c3c3c" textLength="25.40" lengthAdjust="spacingAndGlyphs">[0, 5]</text>
<text x="325.00" y="595.30" font-size="10.8" fill="#3c3c3c" textLength="25.40" lengthAdjust="spacingAndGlyphs">[0, 5]</text>
<text x="325.00" y="615.90" font-size="10.8" fill="#3c3c3c" textLength="25.40" lengthAdjust="spacingAndGlyphs">[0, 5]</text>
<path d="M204.30,544.45 h1.48 v0.9 h-1.48 Z M211.81,544.45 h0.68 v0.9 h-0.68 Z M219.05,544.45 h1.22 v0.9 h-1.22 Z M226.15,544.45 h1.30 v0.9 h-1.30 Z M231.48,544.45 h1.39 v0.9 h-1.39 Z M239.26,544.45 h1.16 v0.9 h-1.16 Z M246.26,544.45 h1.24 v0.9 h-1.24 Z M251.54,544.45 h1.19 v0.9 h-1.19 Z M255.08,544.45 h0.78 v0.9 h-0.78 Z M260.20,544.45 h0.41 v0.9 h-0.41 Z M264.39,544.45 h1.10 v0.9 h-1.10 Z M270.62,544.45 h0.66 v0.9 h-0.66 Z M277.99,544.45 h1.13 v0.9 h-1.13 Z M282.82,544.45 h1.13 v0.9 h-1.13 Z M288.79,544.45 h0.99 v0.9 h-0.99 Z M293.72,544.45 h1.50 v0.9 h-1.50 Z M300.44,544.45 h1.17 v0.9 h-1.17 Z M307.42,544.45 h1.48 v0.9 h-1.48 Z M311.01,544.45 h1.08 v0.9 h-1.08 Z M317.78,544.45 h0.68 v0.9 h-0.68 Z M322.47,544.45 h0.46 v0.9 h-0.46 Z M325.90,544.45 h0.81 v0.9 h-0.81 Z M329.21,544.45 h0.68 v0.9 h-0.68 Z M336.41,544.45 h1.01 v0.9 h-1.01 Z M341.96,544.45 h1.46 v0.9 h-1.46 Z M348.26,544.45 h1.49 v0.9 h-1.49 Z " fill="#a8b0e0"/>
<path d="M236.00,544.40 h1.39 v1.0 h-1.39 Z M238.36,544.40 h1.16 v1.0 h-1.16 Z M241.99,544.40 h0.55 v1.0 h-0.55 Z M245.38,544.40 h0.68 v1.0 h-0.68 Z M247.90,544.40 h0.69 v1.0 h-0.69 Z M250.47,544.40 h1.17 v1.0 h-1.17 Z M252.57,544.40 h1.54 v1.0 h-1.54 Z M255.84,544.40 h1.08 v1.0 h-1.08 Z M259.03,544.40 h0.90 v1.0 h-0.90 Z M261.36,544.40 h1.22 v1.0 h-1.22 Z M264.62,544.40 h0.81 v1.0 h-0.81 Z M267.81,544.40 h0.83 v1.0 h-0.83 Z M269.46,544.40 h0.77 v1.0 h-0.77 Z M271.13,544.40 h0.67 v1.0 h-0.67 Z M274.26,544.40 h0.93 v1.0 h-0.93 Z M277.96,544.40 h1.32 v1.0 h-1.32 Z M280.20,544.40 h1.59 v1.0 h-1.59 Z M284.66,544.40 h0.58 v1.0 h-0.58 Z M288.03,544.40 h0.97 v1.0 h-0.97 Z M290.86,544.40 h1.57 v1.0 h-1.57 Z M293.76,544.40 h1.08 v1.0 h-1.08 Z M297.70,544.40 h1.30 v1.0 h-1.30 Z " fill="#5060b0"/>
<path d="M234.00,564.80 h1.58 v1.0 h-1.58 Z M238.62,564.80 h1.16 v1.0 h-1.16 Z M241.07,564.80 h1.19 v1.0 h-1.19 Z M244.40,564.80 h0.72 v1.0 h-0.72 Z M246.25,564.80 h1.08 v1.0 h-1.08 Z M248.64,564.80 h0.99 v1.0 h-0.99 Z M252.30,564.80 h1.00 v1.0 h-1.00 Z M254.96,564.80 h1.14 v1.0 h-1.14 Z M258.14,564.80 h1.36 v1.0 h-1.36 Z M261.83,564.80 h1.60 v1.0 h-1.60 Z M266.81,564.80 h1.31 v1.0 h-1.31 Z M269.71,564.80 h0.63 v1.0 h-0.63 Z M273.57,564.80 h1.36 v1.0 h-1.36 Z M277.49,564.80 h0.90 v1.0 h-0.90 Z M280.07,564.80 h1.25 v1.0 h-1.25 Z M283.73,564.80 h1.15 v1.0 h-1.15 Z M287.47,564.80 h1.33 v1.0 h-1.33 Z M290.27,564.80 h0.77 v1.0 h-0.77 Z M294.49,564.80 h1.51 v1.0 h-1.51 Z " fill="#5060b0"/>
<path d="M300.00,564.85 h0.43 v0.9 h-0.43 Z M303.86,564.85 h0.62 v0.9 h-0.62 Z M310.45,564.85 h0.90 v0.9 h-0.90 Z M315.07,564.85 h0.83 v0.9 h-0.83 Z M319.41,564.85 h0.47 v0.9 h-0.47 Z M327.61,564.85 h0.84 v0.9 h-0.84 Z M335.87,564.85 h0.70 v0.9 h-0.70 Z M342.92,564.85 h0.57 v0.9 h-0.57 Z " fill="#a8b0e0"/>
<line x1="204.3" y1="586.1" x2="349.2" y2="586.1" stroke="#f06a6a" stroke-width="0.7"/>
<line x1="204.3" y1="606.3" x2="349.2" y2="606.3" stroke="#fbc8cc" stroke-width="0.7" stroke-dasharray="2,1.5"/>
<line x1="204.3" y1="627.7" x2="349.2" y2="627.7" stroke="#c9a8d8" stroke-width="0.7"/>
<path d="M238.20,586.10 L238.65,580.25 L238.85,569.40 L239.55,569.40 L239.75,580.25 L240.20,586.10 Z M237.20,586.10 L237.65,584.00 L237.85,580.10 L238.55,580.10 L238.75,584.00 L239.20,586.10 Z M239.30,586.10 L239.75,583.30 L239.95,578.10 L240.65,578.10 L240.85,583.30 L241.30,586.10 Z M244.40,586.10 L244.85,581.10 L245.05,571.80 L245.75,571.80 L245.95,581.10 L246.40,586.10 Z M246.30,586.10 L246.75,582.25 L246.95,575.10 L247.65,575.10 L247.85,582.25 L248.30,586.10 Z M243.00,586.10 L243.45,584.35 L243.65,581.10 L244.35,581.10 L244.55,584.35 L245.00,586.10 Z M245.30,586.10 L245.75,583.65 L245.95,579.10 L246.65,579.10 L246.85,583.65 L247.30,586.10 Z M247.30,586.10 L247.75,584.35 L247.95,581.10 L248.65,581.10 L248.85,584.35 L249.30,586.10 Z M249.10,586.10 L249.55,583.83 L249.75,579.60 L250.45,579.60 L250.65,583.83 L251.10,586.10 Z M251.50,586.10 L251.95,585.58 L252.15,584.60 L252.85,584.60 L253.05,585.58 L253.50,586.10 Z M255.30,586.10 L255.75,585.05 L255.95,583.10 L256.65,583.10 L256.85,585.05 L257.30,586.10 Z M259.20,586.10 L259.65,584.70 L259.85,582.10 L260.55,582.10 L260.75,584.70 L261.20,586.10 Z M261.50,586.10 L261.95,583.65 L262.15,579.10 L262.85,579.10 L263.05,583.65 L263.50,586.10 Z M262.50,586.10 L262.95,584.70 L263.15,582.10 L263.85,582.10 L264.05,584.70 L264.50,586.10 Z M265.40,586.10 L265.85,585.05 L266.05,583.10 L266.75,583.10 L266.95,585.05 L267.40,586.10 Z M268.20,586.10 L268.65,585.40 L268.85,584.10 L269.55,584.10 L269.75,585.40 L270.20,586.10 Z M227.00,586.10 L227.45,585.40 L227.65,584.10 L228.35,584.10 L228.55,585.40 L229.00,586.10 Z M229.00,586.10 L229.45,585.05 L229.65,583.10 L230.35,583.10 L230.55,585.05 L231.00,586.10 Z M231.00,586.10 L231.45,584.70 L231.65,582.10 L232.35,582.10 L232.55,584.70 L233.00,586.10 Z M215.00,586.10 L215.45,585.40 L215.65,584.10 L216.35,584.10 L216.55,585.40 L217.00,586.10 Z M219.00,586.10 L219.45,585.58 L219.65,584.60 L220.35,584.60 L220.55,585.58 L221.00,586.10 Z M224.00,586.10 L224.45,585.58 L224.65,584.60 L225.35,584.60 L225.55,585.58 L226.00,586.10 Z M320.60,586.10 L321.05,584.03 L321.25,580.20 L321.95,580.20 L322.15,584.03 L322.60,586.10 Z M322.70,586.10 L323.15,585.05 L323.35,583.10 L324.05,583.10 L324.25,585.05 L324.70,586.10 Z M328.60,586.10 L329.05,585.23 L329.25,583.60 L329.95,583.60 L330.15,585.23 L330.60,586.10 Z M271.00,586.10 L271.45,585.58 L271.65,584.60 L272.35,584.60 L272.55,585.58 L273.00,586.10 Z M279.00,586.10 L279.45,585.75 L279.65,585.10 L280.35,585.10 L280.55,585.75 L281.00,586.10 Z M289.00,586.10 L289.45,585.68 L289.65,584.90 L290.35,584.90 L290.55,585.68 L291.00,586.10 Z M299.00,586.10 L299.45,585.75 L299.65,585.10 L300.35,585.10 L300.55,585.75 L301.00,586.10 Z M309.00,586.10 L309.45,585.75 L309.65,585.10 L310.35,585.10 L310.55,585.75 L311.00,586.10 Z " fill="#f03030"/>
<path d="M239.94,586.10 L239.94,583.96 L240.33,583.96 L240.33,586.10 Z M241.27,586.10 L241.27,584.02 L242.38,584.02 L242.38,586.10 Z M245.31,586.10 L245.31,585.33 L246.16,585.33 L246.16,586.10 Z M247.21,586.10 L247.21,584.02 L247.99,584.02 L247.99,586.10 Z M250.77,586.10 L250.77,583.62 L251.49,583.62 L251.49,586.10 Z M253.89,586.10 L253.89,584.16 L255.39,584.16 L255.39,586.10 Z M256.51,586.10 L256.51,584.99 L256.93,584.99 L256.93,586.10 Z M260.99,586.10 L260.99,585.63 L261.39,585.63 L261.39,586.10 Z M264.17,586.10 L264.17,584.73 L265.36,584.73 L265.36,586.10 Z M266.25,586.10 L266.25,584.09 L266.65,584.09 L266.65,586.10 Z M267.97,586.10 L267.97,584.34 L268.38,584.34 L268.38,586.10 Z " fill="#f03030"/>
<path d="M238.20,606.30 L238.65,600.45 L238.85,589.60 L239.55,589.60 L239.75,600.45 L240.20,606.30 Z M237.20,606.30 L237.65,604.20 L237.85,600.30 L238.55,600.30 L238.75,604.20 L239.20,606.30 Z M239.40,606.30 L239.85,603.15 L240.05,597.30 L240.75,597.30 L240.95,603.15 L241.40,606.30 Z M240.50,606.30 L240.95,604.55 L241.15,601.30 L241.85,601.30 L242.05,604.55 L242.50,606.30 Z M241.50,606.30 L241.95,604.90 L242.15,602.30 L242.85,602.30 L243.05,604.90 L243.50,606.30 Z M243.90,606.30 L244.35,600.28 L244.55,589.10 L245.25,589.10 L245.45,600.28 L245.90,606.30 Z M245.80,606.30 L246.25,603.50 L246.45,598.30 L247.15,598.30 L247.35,603.50 L247.80,606.30 Z M248.70,606.30 L249.15,603.85 L249.35,599.30 L250.05,599.30 L250.25,603.85 L250.70,606.30 Z M251.00,606.30 L251.45,604.90 L251.65,602.30 L252.35,602.30 L252.55,604.90 L253.00,606.30 Z M253.90,606.30 L254.35,604.55 L254.55,601.30 L255.25,601.30 L255.45,604.55 L255.90,606.30 Z M255.30,606.30 L255.75,603.50 L255.95,598.30 L256.65,598.30 L256.85,603.50 L257.30,606.30 Z M260.10,606.30 L260.55,603.50 L260.75,598.30 L261.45,598.30 L261.65,603.50 L262.10,606.30 Z M261.50,606.30 L261.95,602.45 L262.15,595.30 L262.85,595.30 L263.05,602.45 L263.50,606.30 Z M263.50,606.30 L263.95,604.20 L264.15,600.30 L264.85,600.30 L265.05,604.20 L265.50,606.30 Z M265.80,606.30 L266.25,601.40 L266.45,592.30 L267.15,592.30 L267.35,601.40 L267.80,606.30 Z M267.30,606.30 L267.75,604.55 L267.95,601.30 L268.65,601.30 L268.85,604.55 L269.30,606.30 Z M269.20,606.30 L269.65,604.90 L269.85,602.30 L270.55,602.30 L270.75,604.90 L271.20,606.30 Z M227.40,606.30 L227.85,605.42 L228.05,603.80 L228.75,603.80 L228.95,605.42 L229.40,606.30 Z M320.60,606.30 L321.05,604.55 L321.25,601.30 L321.95,601.30 L322.15,604.55 L322.60,606.30 Z M322.00,606.30 L322.45,605.25 L322.65,603.30 L323.35,603.30 L323.55,605.25 L324.00,606.30 Z M299.00,606.30 L299.45,605.95 L299.65,605.30 L300.35,605.30 L300.55,605.95 L301.00,606.30 Z M309.00,606.30 L309.45,605.84 L309.65,605.00 L310.35,605.00 L310.55,605.84 L311.00,606.30 Z " fill="#f03030"/>
<path d="M239.30,606.30 L239.30,604.13 L239.97,604.13 L239.97,606.30 Z M240.53,606.30 L240.53,605.03 L241.77,605.03 L241.77,606.30 Z M242.55,606.30 L242.55,605.68 L243.77,605.68 L243.77,606.30 Z M245.30,606.30 L245.30,603.52 L246.82,603.52 L246.82,606.30 Z M249.27,606.30 L249.27,604.82 L250.62,604.82 L250.62,606.30 Z M251.08,606.30 L251.08,605.14 L251.90,605.14 L251.90,606.30 Z M255.13,606.30 L255.13,603.58 L255.75,603.58 L255.75,606.30 Z M257.14,606.30 L257.14,605.01 L257.91,605.01 L257.91,606.30 Z M259.26,606.30 L259.26,604.95 L259.82,604.95 L259.82,606.30 Z M261.99,606.30 L261.99,603.85 L262.99,603.85 L262.99,606.30 Z M265.69,606.30 L265.69,604.48 L266.22,604.48 L266.22,606.30 Z M269.12,606.30 L269.12,603.62 L269.78,603.62 L269.78,606.30 Z M269.91,606.30 L269.91,604.61 L270.92,604.61 L270.92,606.30 Z " fill="#f03030"/>
<path d="M238.40,627.70 L238.94,622.35 L239.25,612.40 L239.95,612.40 L240.26,622.35 L240.80,627.70 Z M239.40,627.70 L239.94,624.55 L240.25,618.70 L240.95,618.70 L241.26,624.55 L241.80,627.70 Z M237.40,627.70 L237.94,626.30 L238.25,623.70 L238.95,623.70 L239.26,626.30 L239.80,627.70 Z M240.60,627.70 L241.14,625.95 L241.45,622.70 L242.15,622.70 L242.46,625.95 L243.00,627.70 Z M241.60,627.70 L242.14,626.30 L242.45,623.70 L243.15,623.70 L243.46,626.30 L244.00,627.70 Z M243.70,627.70 L244.24,623.85 L244.55,616.70 L245.25,616.70 L245.56,623.85 L246.10,627.70 Z M245.10,627.70 L245.64,624.90 L245.95,619.70 L246.65,619.70 L246.96,624.90 L247.50,627.70 Z M246.10,627.70 L246.64,625.95 L246.95,622.70 L247.65,622.70 L247.96,625.95 L248.50,627.70 Z M248.50,627.70 L249.04,626.65 L249.35,624.70 L250.05,624.70 L250.36,626.65 L250.90,627.70 Z M255.10,627.70 L255.64,627.18 L255.95,626.20 L256.65,626.20 L256.96,627.18 L257.50,627.70 Z M260.90,627.70 L261.44,625.50 L261.75,621.40 L262.45,621.40 L262.76,625.50 L263.30,627.70 Z M261.90,627.70 L262.44,625.95 L262.75,622.70 L263.45,622.70 L263.76,625.95 L264.30,627.70 Z M260.00,627.70 L260.54,626.65 L260.85,624.70 L261.55,624.70 L261.86,626.65 L262.40,627.70 Z M267.60,627.70 L268.14,626.83 L268.45,625.20 L269.15,625.20 L269.46,626.83 L270.00,627.70 Z M227.20,627.70 L227.74,627.18 L228.05,626.20 L228.75,626.20 L229.06,627.18 L229.60,627.70 Z " fill="#8a48a2"/>
<path d="M241.17,627.70 L241.17,625.64 L242.51,625.64 L242.51,627.70 Z M242.11,627.70 L242.11,625.92 L243.43,625.92 L243.43,627.70 Z M243.12,627.70 L243.12,627.18 L244.38,627.18 L244.38,627.70 Z M247.05,627.70 L247.05,627.17 L248.17,627.17 L248.17,627.70 Z M248.28,627.70 L248.28,625.39 L249.42,625.39 L249.42,627.70 Z M249.87,627.70 L249.87,626.80 L251.16,626.80 L251.16,627.70 Z " fill="#8a48a2"/>
<rect x="235.5" y="533.2" width="8.10" height="94.40" fill="#f79b33" fill-opacity="0.25" stroke="#d8c0a8" stroke-width="0.6"/>
<line x1="239" y1="635.5" x2="275.5" y2="635.5" stroke="#333" stroke-width="0.8"/>
<g fill="#1a1a1a"><rect x="239.2" y="631.75" width="0.6" height="7.5"/><rect x="242.9" y="631.75" width="0.5" height="7.5"/><rect x="245.6" y="631.75" width="0.5" height="7.5"/><rect x="250.4" y="631.5" width="0.6" height="8"/><rect x="252.3" y="631.5" width="1.2" height="8"/><rect x="253.8" y="631.5" width="1.2" height="8"/><rect x="257.2" y="631.5" width="0.9" height="8"/><rect x="258.6" y="631.5" width="1.0" height="8"/><rect x="260.0" y="631.5" width="0.8" height="8"/><rect x="262.0" y="631.5" width="0.7" height="8"/><rect x="263.8" y="631.75" width="0.7" height="7.5"/><rect x="266.2" y="631.5" width="0.9" height="8"/><rect x="267.2" y="631.5" width="0.8" height="8"/><rect x="269.8" y="632.0" width="0.6" height="7"/><rect x="271.8" y="631.75" width="0.6" height="7.5"/><rect x="273.8" y="632.0" width="2.0" height="7"/></g>
<path d="M241,634.3 L242,635.5 L241,636.7 M244,634.3 L245,635.5 L244,636.7 M247.5,634.3 L248.5,635.5 L247.5,636.7" stroke="#333" stroke-width="0.5" fill="none"/>
<text x="242.9" y="648.9" font-size="10" fill="#3c3c3c" textLength="32.7" lengthAdjust="spacingAndGlyphs"><tspan font-style="italic">NRP2</tspan> &gt;</text>
<text x="364.70" y="512.60" font-size="10.4" fill="#3c3c3c" textLength="154.10" lengthAdjust="spacingAndGlyphs">chr 15: 100,596,993-100,736,149</text>
<text x="421.90" y="528.00" font-size="10.4" fill="#3c3c3c" textLength="31.50" lengthAdjust="spacingAndGlyphs">E12787</text>
<text x="474.90" y="533.90" font-size="10.8" fill="#3c3c3c" textLength="34.60" lengthAdjust="spacingAndGlyphs">[0, 3.5]</text>
<text x="474.90" y="553.80" font-size="10.8" fill="#3c3c3c" textLength="34.60" lengthAdjust="spacingAndGlyphs">[0, 3.5]</text>
<text x="474.90" y="573.50" font-size="10.8" fill="#3c3c3c" textLength="34.60" lengthAdjust="spacingAndGlyphs">[0, 3.5]</text>
<text x="474.90" y="593.70" font-size="10.8" fill="#3c3c3c" textLength="34.60" lengthAdjust="spacingAndGlyphs">[0, 3.5]</text>
<text x="474.90" y="613.90" font-size="10.8" fill="#3c3c3c" textLength="34.60" lengthAdjust="spacingAndGlyphs">[0, 3.5]</text>
<line x1="367" y1="542.2" x2="509.3" y2="542.2" stroke="#6676c0" stroke-width="0.8" stroke-dasharray="4,1.2,1,1.2"/>
<line x1="367" y1="563.1" x2="509.3" y2="563.1" stroke="#7080c8" stroke-width="0.8" stroke-dasharray="3,2.5"/>
<line x1="367" y1="584.1" x2="509.3" y2="584.1" stroke="#f6a0a0" stroke-width="0.7" stroke-dasharray="3,1"/>
<line x1="367" y1="604.3" x2="509.3" y2="604.3" stroke="#f4a0a8" stroke-width="0.7" stroke-dasharray="3,1"/>
<line x1="367" y1="625.0" x2="509.3" y2="625.0" stroke="#c9a8d8" stroke-width="0.8" stroke-dasharray="3,1.5"/>
<path d="M381.10,542.20 L381.50,537.86 L381.65,529.80 L382.35,529.80 L382.50,537.86 L382.90,542.20 Z M380.10,542.20 L380.50,541.15 L380.65,539.20 L381.35,539.20 L381.50,541.15 L381.90,542.20 Z M382.40,542.20 L382.81,540.80 L382.95,538.20 L383.65,538.20 L383.80,540.80 L384.20,542.20 Z M375.10,542.20 L375.50,541.85 L375.65,541.20 L376.35,541.20 L376.50,541.85 L376.90,542.20 Z " fill="#2b3d92"/>
<path d="M392.04,542.20 L392.04,541.55 L392.78,541.55 L392.78,542.20 Z M401.77,542.20 L401.77,541.29 L402.72,541.29 L402.72,542.20 Z M407.92,542.20 L407.92,541.25 L409.14,541.25 L409.14,542.20 Z M417.21,542.20 L417.21,541.53 L418.58,541.53 L418.58,542.20 Z M424.43,542.20 L424.43,541.13 L425.78,541.13 L425.78,542.20 Z M433.05,542.20 L433.05,541.10 L434.59,541.10 L434.59,542.20 Z M440.05,542.20 L440.05,541.43 L441.27,541.43 L441.27,542.20 Z M448.40,542.20 L448.40,541.52 L449.25,541.52 L449.25,542.20 Z M451.29,542.20 L451.29,541.23 L452.88,541.23 L452.88,542.20 Z M456.08,542.20 L456.08,541.75 L456.65,541.75 L456.65,542.20 Z M461.29,542.20 L461.29,541.64 L462.85,541.64 L462.85,542.20 Z M463.45,542.20 L463.45,541.62 L463.90,541.62 L463.90,542.20 Z M470.52,542.20 L470.52,541.20 L471.05,541.20 L471.05,542.20 Z M472.70,542.20 L472.70,541.49 L473.76,541.49 L473.76,542.20 Z M481.95,542.20 L481.95,541.87 L482.39,541.87 L482.39,542.20 Z M485.15,542.20 L485.15,541.70 L485.76,541.70 L485.76,542.20 Z M492.80,542.20 L492.80,541.36 L493.39,541.36 L493.39,542.20 Z M496.01,542.20 L496.01,541.65 L496.53,541.65 L496.53,542.20 Z M503.98,542.20 L503.98,541.62 L505.00,541.62 L505.00,542.20 Z " fill="#2b3d92"/>
<path d="M380.70,563.10 L381.11,560.89 L381.25,556.80 L381.95,556.80 L382.10,560.89 L382.50,563.10 Z M381.90,563.10 L382.31,561.70 L382.45,559.10 L383.15,559.10 L383.30,561.70 L383.70,563.10 Z M459.10,563.10 L459.50,561.98 L459.65,559.90 L460.35,559.90 L460.50,561.98 L460.90,563.10 Z M458.10,563.10 L458.50,562.58 L458.65,561.60 L459.35,561.60 L459.50,562.58 L459.90,563.10 Z M485.10,563.10 L485.50,562.58 L485.65,561.60 L486.35,561.60 L486.50,562.58 L486.90,563.10 Z M499.10,563.10 L499.50,562.68 L499.65,561.90 L500.35,561.90 L500.50,562.68 L500.90,563.10 Z " fill="#2b3d92"/>
<line x1="432.6" y1="563.1" x2="443.4" y2="563.1" stroke="#2b3d92" stroke-width="1.1"/>
<path d="M381.10,584.10 L381.50,578.33 L381.65,567.60 L382.35,567.60 L382.50,578.33 L382.90,584.10 Z M380.10,584.10 L380.50,582.70 L380.65,580.10 L381.35,580.10 L381.50,582.70 L381.90,584.10 Z M382.30,584.10 L382.70,582.35 L382.85,579.10 L383.55,579.10 L383.69,582.35 L384.10,584.10 Z M402.90,584.10 L403.31,583.23 L403.45,581.60 L404.15,581.60 L404.30,583.23 L404.70,584.10 Z M437.10,584.10 L437.50,580.60 L437.65,574.10 L438.35,574.10 L438.50,580.60 L438.90,584.10 Z M436.10,584.10 L436.50,582.70 L436.65,580.10 L437.35,580.10 L437.50,582.70 L437.90,584.10 Z M438.40,584.10 L438.81,582.35 L438.95,579.10 L439.65,579.10 L439.80,582.35 L440.20,584.10 Z M459.30,584.10 L459.70,579.87 L459.85,572.00 L460.55,572.00 L460.69,579.87 L461.10,584.10 Z M458.10,584.10 L458.50,582.70 L458.65,580.10 L459.35,580.10 L459.50,582.70 L459.90,584.10 Z M460.60,584.10 L461.00,582.35 L461.15,579.10 L461.85,579.10 L462.00,582.35 L462.40,584.10 Z M454.10,584.10 L454.50,583.58 L454.65,582.60 L455.35,582.60 L455.50,583.58 L455.90,584.10 Z M485.70,584.10 L486.11,583.40 L486.25,582.10 L486.95,582.10 L487.10,583.40 L487.50,584.10 Z M487.10,584.10 L487.50,583.58 L487.65,582.60 L488.35,582.60 L488.50,583.58 L488.90,584.10 Z " fill="#e8283c"/>
<path d="M372.85,584.10 L372.85,583.54 L374.31,583.54 L374.31,584.10 Z M380.81,584.10 L380.81,583.46 L381.82,583.46 L381.82,584.10 Z M389.08,584.10 L389.08,583.32 L389.66,583.32 L389.66,584.10 Z M390.86,584.10 L390.86,582.85 L392.20,582.85 L392.20,584.10 Z M395.04,584.10 L395.04,583.27 L396.01,583.27 L396.01,584.10 Z M398.43,584.10 L398.43,582.81 L399.58,582.81 L399.58,584.10 Z M401.55,584.10 L401.55,583.79 L402.47,583.79 L402.47,584.10 Z M405.64,584.10 L405.64,583.00 L406.86,583.00 L406.86,584.10 Z M411.39,584.10 L411.39,583.64 L411.90,583.64 L411.90,584.10 Z M415.12,584.10 L415.12,583.54 L416.55,583.54 L416.55,584.10 Z M420.24,584.10 L420.24,583.16 L421.83,583.16 L421.83,584.10 Z M423.57,584.10 L423.57,583.27 L424.07,583.27 L424.07,584.10 Z " fill="#e8283c"/>
<path d="M446.44,584.10 L446.44,582.98 L447.84,582.98 L447.84,584.10 Z M453.74,584.10 L453.74,583.72 L454.39,583.72 L454.39,584.10 Z M460.29,584.10 L460.29,583.70 L461.21,583.70 L461.21,584.10 Z M465.06,584.10 L465.06,582.84 L466.12,582.84 L466.12,584.10 Z M472.61,584.10 L472.61,583.50 L473.94,583.50 L473.94,584.10 Z M477.02,584.10 L477.02,582.88 L477.44,582.88 L477.44,584.10 Z M484.35,584.10 L484.35,583.59 L485.36,583.59 L485.36,584.10 Z M489.54,584.10 L489.54,583.64 L490.92,583.64 L490.92,584.10 Z M493.19,584.10 L493.19,583.49 L493.59,583.49 L493.59,584.10 Z M496.80,584.10 L496.80,583.33 L498.03,583.33 L498.03,584.10 Z M500.80,584.10 L500.80,583.11 L501.24,583.11 L501.24,584.10 Z M505.04,584.10 L505.04,583.34 L506.60,583.34 L506.60,584.10 Z " fill="#e8283c"/>
<path d="M381.10,604.30 L381.50,598.25 L381.65,587.00 L382.35,587.00 L382.50,598.25 L382.90,604.30 Z M379.90,604.30 L380.31,602.55 L380.45,599.30 L381.15,599.30 L381.30,602.55 L381.70,604.30 Z M382.50,604.30 L382.90,602.55 L383.05,599.30 L383.75,599.30 L383.89,602.55 L384.30,604.30 Z M377.00,604.30 L377.40,603.60 L377.55,602.30 L378.25,602.30 L378.39,603.60 L378.80,604.30 Z M402.60,604.30 L403.00,602.90 L403.15,600.30 L403.85,600.30 L404.00,602.90 L404.40,604.30 Z M426.30,604.30 L426.70,603.07 L426.85,600.80 L427.55,600.80 L427.69,603.07 L428.10,604.30 Z M437.20,604.30 L437.61,598.35 L437.75,587.30 L438.45,587.30 L438.60,598.35 L439.00,604.30 Z M436.10,604.30 L436.50,602.20 L436.65,598.30 L437.35,598.30 L437.50,602.20 L437.90,604.30 Z M438.40,604.30 L438.81,601.85 L438.95,597.30 L439.65,597.30 L439.80,601.85 L440.20,604.30 Z M459.30,604.30 L459.70,598.91 L459.85,588.90 L460.55,588.90 L460.69,598.91 L461.10,604.30 Z M458.10,604.30 L458.50,602.20 L458.65,598.30 L459.35,598.30 L459.50,602.20 L459.90,604.30 Z M460.50,604.30 L460.90,602.20 L461.05,598.30 L461.75,598.30 L461.89,602.20 L462.30,604.30 Z M485.70,604.30 L486.11,603.25 L486.25,601.30 L486.95,601.30 L487.10,603.25 L487.50,604.30 Z M487.60,604.30 L488.00,603.25 L488.15,601.30 L488.85,601.30 L489.00,603.25 L489.40,604.30 Z M489.10,604.30 L489.50,603.60 L489.65,602.30 L490.35,602.30 L490.50,603.60 L490.90,604.30 Z " fill="#e8283c"/>
<path d="M375.12,604.30 L375.12,603.99 L375.91,603.99 L375.91,604.30 Z M382.70,604.30 L382.70,603.79 L383.73,603.79 L383.73,604.30 Z M388.18,604.30 L388.18,603.99 L389.77,603.99 L389.77,604.30 Z M396.51,604.30 L396.51,603.81 L397.61,603.81 L397.61,604.30 Z M400.60,604.30 L400.60,603.66 L401.60,603.66 L401.60,604.30 Z M404.75,604.30 L404.75,603.70 L405.56,603.70 L405.56,604.30 Z M411.97,604.30 L411.97,603.77 L412.53,603.77 L412.53,604.30 Z M419.74,604.30 L419.74,603.70 L421.26,603.70 L421.26,604.30 Z M426.09,604.30 L426.09,603.35 L426.82,603.35 L426.82,604.30 Z " fill="#e8283c"/>
<path d="M447.44,604.30 L447.44,603.87 L447.86,603.87 L447.86,604.30 Z M454.75,604.30 L454.75,603.36 L455.28,603.36 L455.28,604.30 Z M459.77,604.30 L459.77,603.25 L460.84,603.25 L460.84,604.30 Z M462.19,604.30 L462.19,603.80 L462.69,603.80 L462.69,604.30 Z M464.89,604.30 L464.89,603.63 L465.28,603.63 L465.28,604.30 Z M474.23,604.30 L474.23,603.62 L475.19,603.62 L475.19,604.30 Z M481.29,604.30 L481.29,603.31 L482.65,603.31 L482.65,604.30 Z M486.17,604.30 L486.17,603.70 L487.00,603.70 L487.00,604.30 Z M487.96,604.30 L487.96,603.64 L489.17,603.64 L489.17,604.30 Z M497.81,604.30 L497.81,603.29 L498.97,603.29 L498.97,604.30 Z M504.55,604.30 L504.55,603.98 L505.28,603.98 L505.28,604.30 Z " fill="#e8283c"/>
<path d="M381.00,625.00 L381.45,619.92 L381.65,610.50 L382.35,610.50 L382.55,619.92 L383.00,625.00 Z M380.00,625.00 L380.45,623.25 L380.65,620.00 L381.35,620.00 L381.55,623.25 L382.00,625.00 Z M382.30,625.00 L382.75,623.60 L382.95,621.00 L383.65,621.00 L383.85,623.60 L384.30,625.00 Z M376.90,625.00 L377.35,623.95 L377.55,622.00 L378.25,622.00 L378.45,623.95 L378.90,625.00 Z M394.70,625.00 L395.15,624.30 L395.35,623.00 L396.05,623.00 L396.25,624.30 L396.70,625.00 Z M426.20,625.00 L426.65,624.30 L426.85,623.00 L427.55,623.00 L427.75,624.30 L428.20,625.00 Z M436.70,625.00 L437.15,622.27 L437.35,617.20 L438.05,617.20 L438.25,622.27 L438.70,625.00 Z M435.60,625.00 L436.05,623.25 L436.25,620.00 L436.95,620.00 L437.15,623.25 L437.60,625.00 Z M437.80,625.00 L438.25,623.25 L438.45,620.00 L439.15,620.00 L439.35,623.25 L439.80,625.00 Z M454.00,625.00 L454.45,623.25 L454.65,620.00 L455.35,620.00 L455.55,623.25 L456.00,625.00 Z M459.40,625.00 L459.85,619.47 L460.05,609.20 L460.75,609.20 L460.95,619.47 L461.40,625.00 Z M458.30,625.00 L458.75,622.20 L458.95,617.00 L459.65,617.00 L459.85,622.20 L460.30,625.00 Z M460.60,625.00 L461.05,622.20 L461.25,617.00 L461.95,617.00 L462.15,622.20 L462.60,625.00 Z M461.30,625.00 L461.75,623.60 L461.95,621.00 L462.65,621.00 L462.85,623.60 L463.30,625.00 Z M462.50,625.00 L462.95,623.95 L463.15,622.00 L463.85,622.00 L464.05,623.95 L464.50,625.00 Z " fill="#8a48a2"/>
<path d="M374.08,625.00 L374.08,624.60 L374.87,624.60 L374.87,625.00 Z M379.14,625.00 L379.14,623.99 L380.52,623.99 L380.52,625.00 Z M384.94,625.00 L384.94,624.56 L386.24,624.56 L386.24,625.00 Z M392.82,625.00 L392.82,624.21 L393.58,624.21 L393.58,625.00 Z M397.82,625.00 L397.82,624.57 L399.05,624.57 L399.05,625.00 Z M406.30,625.00 L406.30,624.24 L407.53,624.24 L407.53,625.00 Z M413.69,625.00 L413.69,624.52 L415.22,624.52 L415.22,625.00 Z M419.60,625.00 L419.60,624.52 L420.01,624.52 L420.01,625.00 Z M422.78,625.00 L422.78,624.18 L423.98,624.18 L423.98,625.00 Z M426.56,625.00 L426.56,623.86 L427.33,623.86 L427.33,625.00 Z " fill="#8a48a2"/>
<path d="M448.24,625.00 L448.24,624.02 L448.72,624.02 L448.72,625.00 Z M459.28,625.00 L459.28,624.32 L460.31,624.32 L460.31,625.00 Z M466.88,625.00 L466.88,624.51 L468.37,624.51 L468.37,625.00 Z M478.81,625.00 L478.81,624.13 L479.89,624.13 L479.89,625.00 Z M482.03,625.00 L482.03,624.12 L482.71,624.12 L482.71,625.00 Z M493.00,625.00 L493.00,624.53 L494.05,624.53 L494.05,625.00 Z M503.31,625.00 L503.31,624.57 L504.32,624.57 L504.32,625.00 Z M506.07,625.00 L506.07,624.68 L506.61,624.68 L506.61,625.00 Z " fill="#8a48a2"/>
<rect x="432.4" y="533.3" width="11.10" height="91.70" fill="#93b75b" fill-opacity="0.25" stroke="#c4d4b4" stroke-width="0.6"/>
<text x="528.40" y="512.20" font-size="10.4" fill="#3c3c3c" textLength="142.10" lengthAdjust="spacingAndGlyphs">chr 5:152,375,014-152,584,515</text>
<text x="597.60" y="528.40" font-size="10.4" fill="#3c3c3c" textLength="34.40" lengthAdjust="spacingAndGlyphs">E29176</text>
<text x="653.00" y="532.50" font-size="10.8" fill="#3c3c3c" textLength="26.00" lengthAdjust="spacingAndGlyphs">[0, 2]</text>
<text x="653.00" y="552.50" font-size="10.8" fill="#3c3c3c" textLength="26.00" lengthAdjust="spacingAndGlyphs">[0, 2]</text>
<text x="653.00" y="572.30" font-size="10.8" fill="#3c3c3c" textLength="26.00" lengthAdjust="spacingAndGlyphs">[0, 2]</text>
<text x="653.00" y="592.20" font-size="10.8" fill="#3c3c3c" textLength="26.00" lengthAdjust="spacingAndGlyphs">[0, 2]</text>
<text x="653.00" y="612.70" font-size="10.8" fill="#3c3c3c" textLength="26.00" lengthAdjust="spacingAndGlyphs">[0, 2]</text>
<line x1="528.4" y1="542.9" x2="677.8" y2="542.9" stroke="#7d8ad0" stroke-width="0.8"/>
<line x1="528.4" y1="562.8" x2="677.8" y2="562.8" stroke="#8d98d8" stroke-width="0.7" stroke-dasharray="2,4"/>
<line x1="528.4" y1="582.8" x2="677.8" y2="582.8" stroke="#f6a8a0" stroke-width="0.7" stroke-dasharray="3,3"/>
<line x1="528.4" y1="603.0" x2="677.8" y2="603.0" stroke="#f8c0b8" stroke-width="0.6" stroke-dasharray="4,3"/>
<path d="M540.00,542.90 L540.00,542.90 L540.75,542.65 L541.50,542.14 L542.25,542.05 L543.00,542.02 L544.00,541.30 L545.00,540.76 L546.00,541.22 L547.00,541.34 L547.75,541.59 L548.50,542.44 L549.25,542.71 L550.00,542.90 L550.00,542.90 Z" fill="#2b3d92"/>
<path d="M599.70,542.90 L599.70,542.90 L600.53,542.70 L601.35,542.52 L602.17,542.51 L603.00,542.17 L603.75,541.96 L604.50,542.10 L605.25,541.79 L606.00,541.84 L607.00,541.26 L608.00,541.00 L608.73,540.51 L609.47,540.58 L610.20,539.90 L611.10,540.36 L612.00,540.02 L613.00,540.44 L614.00,540.72 L614.75,541.00 L615.50,541.13 L616.25,541.34 L617.00,541.55 L617.70,541.95 L618.40,542.51 L619.10,542.90 L619.10,542.90 Z" fill="#2b3d92"/>
<path d="M584.91,542.90 L584.91,542.18 L586.32,542.18 L586.32,542.90 Z M595.06,542.90 L595.06,542.38 L596.10,542.38 L596.10,542.90 Z " fill="#2b3d92"/>
<path d="M632.10,542.90 L632.10,542.34 L632.96,542.34 L632.96,542.90 Z " fill="#2b3d92"/>
<path d="M528.00,562.30 h1.51 v1.0 h-1.51 Z M532.78,562.30 h2.40 v1.0 h-2.40 Z M542.68,562.30 h2.41 v1.0 h-2.41 Z M551.07,562.30 h2.45 v1.0 h-2.45 Z M558.05,562.30 h2.11 v1.0 h-2.11 Z M563.51,562.30 h1.07 v1.0 h-1.07 Z M569.81,562.30 h1.91 v1.0 h-1.91 Z M576.70,562.30 h0.91 v1.0 h-0.91 Z M584.09,562.30 h1.96 v1.0 h-1.96 Z M590.25,562.30 h1.47 v1.0 h-1.47 Z M596.70,562.30 h1.32 v1.0 h-1.32 Z M601.36,562.30 h2.80 v1.0 h-2.80 Z M612.00,562.30 h2.26 v1.0 h-2.26 Z M621.59,562.30 h1.73 v1.0 h-1.73 Z M630.35,562.30 h1.29 v1.0 h-1.29 Z M638.37,562.30 h2.05 v1.0 h-2.05 Z " fill="#7080c8"/>
<path d="M604.00,562.80 L604.00,562.80 L605.00,562.46 L606.00,561.68 L607.00,561.70 L608.00,561.28 L609.00,561.47 L610.00,562.20 L610.75,562.18 L611.50,562.23 L612.25,562.30 L613.00,562.47 L613.71,562.21 L614.43,562.32 L615.14,562.51 L615.86,562.59 L616.57,562.66 L617.29,562.73 L618.00,562.80 L618.00,562.80 Z" fill="#2b3d92"/>
<path d="M594.90,582.80 L594.90,582.80 L595.70,582.55 L596.50,582.42 L597.30,582.22 L598.10,581.70 L598.90,582.09 L599.70,581.86 L600.50,580.45 L601.30,580.78 L602.10,580.18 L602.90,579.28 L603.72,578.89 L604.53,579.17 L605.35,579.15 L606.17,578.71 L606.98,577.63 L607.80,577.32 L608.60,577.67 L609.40,576.39 L610.20,576.48 L611.00,575.60 L611.80,575.23 L612.60,573.64 L613.43,572.57 L614.27,572.59 L615.10,571.14 L615.90,572.42 L616.70,572.34 L617.50,574.17 L618.30,574.94 L619.10,575.03 L619.90,575.90 L620.70,575.57 L621.50,575.98 L622.30,576.54 L623.13,577.74 L623.97,577.56 L624.80,577.77 L625.60,579.62 L626.40,581.31 L627.20,581.80 L628.00,582.36 L628.80,582.80 L628.80,582.80 Z" fill="#fa4a1e"/>
<path d="M534.00,582.80 L534.00,582.80 L535.00,582.17 L536.00,581.98 L537.00,581.79 L538.00,581.56 L539.00,581.50 L540.00,581.63 L541.00,582.38 L542.00,582.80 L542.00,582.80 Z" fill="#fa4a1e"/>
<path d="M548.00,582.80 L548.00,582.80 L549.00,582.20 L550.00,581.57 L550.80,581.67 L551.60,581.80 L552.40,581.68 L553.20,581.22 L554.00,581.30 L554.80,581.61 L555.60,581.48 L556.40,581.89 L557.20,581.43 L558.00,581.84 L559.00,582.28 L560.00,582.80 L560.00,582.80 Z" fill="#fa4a1e"/>
<path d="M570.00,582.80 L570.00,582.80 L571.00,582.28 L572.00,582.07 L572.75,581.54 L573.50,581.53 L574.25,581.75 L575.00,581.62 L576.00,582.55 L577.00,582.80 L577.00,582.80 Z" fill="#fa4a1e"/>
<path d="M580.00,582.80 L580.00,582.80 L581.00,582.43 L582.00,581.65 L582.75,581.85 L583.50,581.73 L584.25,581.47 L585.00,581.59 L585.75,581.26 L586.50,581.31 L587.25,581.98 L588.00,581.82 L589.00,582.15 L590.00,582.80 L590.00,582.80 Z" fill="#fa4a1e"/>
<path d="M640.00,582.80 L640.00,582.80 L641.00,582.37 L642.00,581.54 L642.75,581.70 L643.50,581.79 L644.25,581.47 L645.00,581.31 L645.75,581.58 L646.50,581.51 L647.25,581.53 L648.00,581.79 L649.00,582.30 L650.00,582.80 L650.00,582.80 Z" fill="#fa4a1e"/>
<path d="M595.70,603.00 L595.70,603.00 L596.50,602.25 L597.30,602.02 L598.10,601.78 L598.90,600.95 L599.70,601.33 L600.50,600.89 L601.30,601.67 L602.10,601.39 L602.92,602.14 L603.75,602.31 L604.58,602.35 L605.40,603.00 L606.20,601.21 L607.00,599.71 L607.80,598.76 L608.60,597.01 L609.40,597.28 L610.20,596.92 L611.00,597.00 L611.83,597.96 L612.67,597.90 L613.50,598.29 L614.30,596.68 L615.10,594.63 L615.90,594.05 L616.70,592.81 L617.50,591.68 L618.30,593.14 L619.10,595.13 L619.90,597.06 L620.70,598.07 L621.50,598.37 L622.30,599.93 L623.13,598.76 L623.97,598.76 L624.80,598.46 L625.60,598.96 L626.40,600.26 L627.20,601.35 L628.00,602.19 L628.80,603.00 L628.80,603.00 Z" fill="#fa4a1e"/>
<path d="M569.00,603.00 L569.00,603.00 L570.00,602.27 L570.75,601.86 L571.50,601.43 L572.25,601.73 L573.00,602.14 L574.00,603.00 L574.00,603.00 Z" fill="#fa4a1e"/>
<path d="M577.00,603.00 L577.00,603.00 L578.00,601.95 L578.75,602.00 L579.50,601.31 L580.25,601.95 L581.00,602.15 L582.00,603.00 L582.00,603.00 Z" fill="#fa4a1e"/>
<path d="M584.00,603.00 L584.00,603.00 L585.00,602.20 L585.75,601.76 L586.50,601.55 L587.25,601.45 L588.00,601.76 L588.75,601.68 L589.50,601.83 L590.25,602.05 L591.00,601.72 L592.00,603.00 L592.00,603.00 Z" fill="#fa4a1e"/>
<path d="M636.00,603.00 L636.00,603.00 L637.00,602.27 L638.00,601.76 L639.00,601.34 L640.00,601.46 L641.00,602.21 L642.00,603.00 L642.00,603.00 Z" fill="#fa4a1e"/>
<path d="M598.90,622.80 L598.90,622.80 L599.70,621.19 L600.50,619.17 L601.30,618.35 L602.12,618.36 L602.95,617.83 L603.77,618.98 L604.60,618.93 L605.40,619.04 L606.20,618.89 L607.00,619.31 L607.80,616.86 L608.60,613.20 L609.40,610.98 L610.20,610.85 L611.00,611.29 L611.80,611.10 L612.65,611.74 L613.50,613.11 L614.30,610.10 L615.10,606.78 L615.90,609.71 L616.70,612.00 L617.75,609.72 L618.80,608.67 L619.75,610.85 L620.70,611.92 L621.53,613.45 L622.37,616.00 L623.20,617.49 L624.00,619.82 L624.80,622.80 L624.80,622.80 Z" fill="#9a4eb4"/>
<path d="M562.00,622.80 L562.00,622.80 L563.00,621.58 L564.00,621.15 L565.00,621.57 L566.00,622.80 L566.00,622.80 Z" fill="#8a48a2"/>
<path d="M572.00,622.80 L572.00,622.80 L573.00,621.82 L573.75,621.71 L574.50,621.29 L575.25,621.42 L576.00,621.03 L576.75,621.52 L577.50,621.59 L578.25,621.84 L579.00,621.77 L580.00,622.80 L580.00,622.80 Z" fill="#8a48a2"/>
<path d="M584.00,622.80 L584.00,622.80 L585.00,622.00 L586.00,621.68 L587.00,621.37 L588.00,621.52 L589.00,621.91 L590.00,622.80 L590.00,622.80 Z" fill="#8a48a2"/>
<path d="M642.00,622.80 L642.00,622.80 L643.00,621.83 L644.00,621.20 L645.00,621.09 L646.00,621.28 L647.00,621.98 L648.00,622.80 L648.00,622.80 Z" fill="#8a48a2"/>
<path d="M600.00,622.80 L600.00,622.80 L601.00,621.87 L602.00,621.46 L603.00,621.69 L604.00,622.80 L604.00,622.80 Z" fill="#8a48a2"/>
<path d="M560.00,622.40 h1.73 v0.8 h-1.73 Z M567.92,622.40 h1.04 v0.8 h-1.04 Z M574.42,622.40 h1.52 v0.8 h-1.52 Z M583.08,622.40 h2.85 v0.8 h-2.85 Z M595.65,622.40 h1.54 v0.8 h-1.54 Z M604.08,622.40 h1.31 v0.8 h-1.31 Z M616.88,622.40 h1.72 v0.8 h-1.72 Z M628.72,622.40 h2.45 v0.8 h-2.45 Z M642.43,622.40 h1.04 v0.8 h-1.04 Z M650.04,622.40 h1.77 v0.8 h-1.77 Z M656.48,622.40 h2.76 v0.8 h-2.76 Z M665.85,622.40 h2.54 v0.8 h-2.54 Z " fill="#c8a8d8"/>
<rect x="596.1" y="533.1" width="37.60" height="89.70" fill="#93b75b" fill-opacity="0.25" stroke="#c4d4b4" stroke-width="0.6"/>
</svg></body></html>
